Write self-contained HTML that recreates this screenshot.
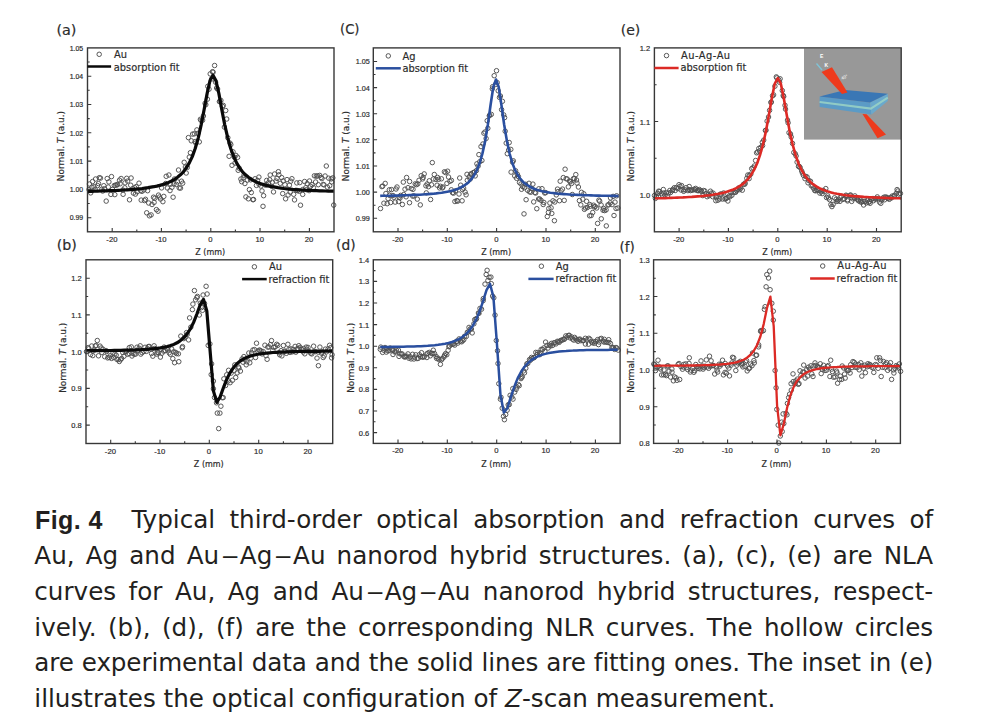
<!DOCTYPE html>
<html lang="en"><head><meta charset="utf-8"><title>Fig. 4</title>
<style>
html,body{margin:0;padding:0;background:#fff;}
body{width:982px;height:720px;position:relative;overflow:hidden;font-family:"Liberation Sans",Arial,sans-serif;}
svg{position:absolute;left:0;top:0;font-family:"Liberation Sans",Arial,sans-serif;}
svg .dj{font-family:"DejaVu Sans","Liberation Sans",sans-serif;}
svg text{stroke:#2b2b2b;stroke-width:0.18px;}
svg .ins text{stroke:none;}
.ln{position:absolute;height:36px;line-height:36px;font-size:24.64px;color:#231f20;white-space:nowrap;font-family:"DejaVu Sans","Liberation Sans",sans-serif;}
.ln .d{display:inline-block;transform:scaleX(1.45);margin:0 3.6px 0 4.8px;}
.ln.fig{font-family:"Liberation Sans",sans-serif;font-weight:bold;font-size:25px;letter-spacing:0.4px;}
.ln.j{text-align:justify;text-align-last:justify;white-space:normal;}
</style></head><body>
<svg width="982" height="490" viewBox="0 0 982 490">
<g fill="none" stroke="#505050" stroke-width="0.95">
<circle cx="89.0" cy="189.5" r="2.25"/>
<circle cx="89.4" cy="184.0" r="2.25"/>
<circle cx="90.7" cy="192.9" r="2.25"/>
<circle cx="91.9" cy="187.2" r="2.25"/>
<circle cx="92.6" cy="181.5" r="2.25"/>
<circle cx="94.0" cy="186.8" r="2.25"/>
<circle cx="95.1" cy="189.4" r="2.25"/>
<circle cx="95.6" cy="179.0" r="2.25"/>
<circle cx="97.6" cy="185.6" r="2.25"/>
<circle cx="98.5" cy="183.6" r="2.25"/>
<circle cx="99.3" cy="177.7" r="2.25"/>
<circle cx="100.5" cy="178.1" r="2.25"/>
<circle cx="101.8" cy="189.3" r="2.25"/>
<circle cx="102.7" cy="191.0" r="2.25"/>
<circle cx="103.8" cy="185.7" r="2.25"/>
<circle cx="104.5" cy="188.7" r="2.25"/>
<circle cx="106.2" cy="201.1" r="2.25"/>
<circle cx="107.2" cy="178.5" r="2.25"/>
<circle cx="108.3" cy="187.0" r="2.25"/>
<circle cx="108.9" cy="181.9" r="2.25"/>
<circle cx="110.9" cy="194.4" r="2.25"/>
<circle cx="111.5" cy="176.6" r="2.25"/>
<circle cx="112.5" cy="189.4" r="2.25"/>
<circle cx="114.3" cy="185.5" r="2.25"/>
<circle cx="114.8" cy="194.6" r="2.25"/>
<circle cx="115.5" cy="185.2" r="2.25"/>
<circle cx="116.9" cy="185.0" r="2.25"/>
<circle cx="117.4" cy="184.4" r="2.25"/>
<circle cx="119.5" cy="180.2" r="2.25"/>
<circle cx="120.1" cy="183.8" r="2.25"/>
<circle cx="121.1" cy="178.5" r="2.25"/>
<circle cx="122.8" cy="190.0" r="2.25"/>
<circle cx="123.1" cy="194.3" r="2.25"/>
<circle cx="124.8" cy="187.8" r="2.25"/>
<circle cx="125.1" cy="182.8" r="2.25"/>
<circle cx="126.7" cy="178.3" r="2.25"/>
<circle cx="127.6" cy="181.1" r="2.25"/>
<circle cx="129.5" cy="199.8" r="2.25"/>
<circle cx="130.7" cy="185.2" r="2.25"/>
<circle cx="131.1" cy="178.0" r="2.25"/>
<circle cx="132.6" cy="188.8" r="2.25"/>
<circle cx="133.4" cy="193.1" r="2.25"/>
<circle cx="134.7" cy="187.7" r="2.25"/>
<circle cx="135.4" cy="194.1" r="2.25"/>
<circle cx="136.2" cy="186.6" r="2.25"/>
<circle cx="137.3" cy="191.8" r="2.25"/>
<circle cx="139.0" cy="183.2" r="2.25"/>
<circle cx="140.7" cy="190.7" r="2.25"/>
<circle cx="141.2" cy="200.1" r="2.25"/>
<circle cx="142.0" cy="191.3" r="2.25"/>
<circle cx="143.9" cy="189.9" r="2.25"/>
<circle cx="144.5" cy="200.6" r="2.25"/>
<circle cx="145.5" cy="199.3" r="2.25"/>
<circle cx="146.7" cy="212.8" r="2.25"/>
<circle cx="147.6" cy="190.7" r="2.25"/>
<circle cx="148.7" cy="203.0" r="2.25"/>
<circle cx="149.4" cy="215.8" r="2.25"/>
<circle cx="151.1" cy="214.9" r="2.25"/>
<circle cx="152.0" cy="204.5" r="2.25"/>
<circle cx="153.5" cy="197.2" r="2.25"/>
<circle cx="154.1" cy="202.4" r="2.25"/>
<circle cx="154.8" cy="198.2" r="2.25"/>
<circle cx="156.4" cy="209.6" r="2.25"/>
<circle cx="158.0" cy="211.2" r="2.25"/>
<circle cx="158.5" cy="195.1" r="2.25"/>
<circle cx="159.5" cy="197.0" r="2.25"/>
<circle cx="160.5" cy="199.0" r="2.25"/>
<circle cx="161.6" cy="187.9" r="2.25"/>
<circle cx="162.9" cy="201.7" r="2.25"/>
<circle cx="163.8" cy="196.4" r="2.25"/>
<circle cx="165.7" cy="183.5" r="2.25"/>
<circle cx="166.2" cy="176.3" r="2.25"/>
<circle cx="167.4" cy="188.0" r="2.25"/>
<circle cx="168.9" cy="175.0" r="2.25"/>
<circle cx="170.0" cy="190.6" r="2.25"/>
<circle cx="170.6" cy="184.2" r="2.25"/>
<circle cx="171.9" cy="187.3" r="2.25"/>
<circle cx="173.1" cy="197.2" r="2.25"/>
<circle cx="173.9" cy="184.0" r="2.25"/>
<circle cx="174.5" cy="179.0" r="2.25"/>
<circle cx="176.4" cy="184.4" r="2.25"/>
<circle cx="177.5" cy="181.9" r="2.25"/>
<circle cx="178.5" cy="170.0" r="2.25"/>
<circle cx="179.2" cy="187.9" r="2.25"/>
<circle cx="180.5" cy="188.1" r="2.25"/>
<circle cx="181.5" cy="181.2" r="2.25"/>
<circle cx="182.7" cy="183.2" r="2.25"/>
<circle cx="184.2" cy="162.3" r="2.25"/>
<circle cx="185.4" cy="167.0" r="2.25"/>
<circle cx="186.2" cy="173.0" r="2.25"/>
<circle cx="187.3" cy="167.4" r="2.25"/>
<circle cx="188.4" cy="137.6" r="2.25"/>
<circle cx="189.3" cy="157.1" r="2.25"/>
<circle cx="190.4" cy="152.7" r="2.25"/>
<circle cx="191.3" cy="140.8" r="2.25"/>
<circle cx="192.6" cy="134.1" r="2.25"/>
<circle cx="194.4" cy="133.8" r="2.25"/>
<circle cx="195.1" cy="141.5" r="2.25"/>
<circle cx="195.8" cy="143.0" r="2.25"/>
<circle cx="196.9" cy="129.9" r="2.25"/>
<circle cx="197.8" cy="133.4" r="2.25"/>
<circle cx="199.3" cy="141.9" r="2.25"/>
<circle cx="200.4" cy="119.3" r="2.25"/>
<circle cx="201.0" cy="120.4" r="2.25"/>
<circle cx="202.6" cy="120.2" r="2.25"/>
<circle cx="203.4" cy="116.0" r="2.25"/>
<circle cx="205.1" cy="103.3" r="2.25"/>
<circle cx="205.8" cy="104.7" r="2.25"/>
<circle cx="207.4" cy="99.2" r="2.25"/>
<circle cx="207.8" cy="86.3" r="2.25"/>
<circle cx="209.0" cy="89.2" r="2.25"/>
<circle cx="210.2" cy="73.9" r="2.25"/>
<circle cx="211.6" cy="79.0" r="2.25"/>
<circle cx="212.5" cy="71.7" r="2.25"/>
<circle cx="213.1" cy="72.2" r="2.25"/>
<circle cx="214.6" cy="65.5" r="2.25"/>
<circle cx="215.6" cy="82.2" r="2.25"/>
<circle cx="216.6" cy="88.0" r="2.25"/>
<circle cx="217.6" cy="89.0" r="2.25"/>
<circle cx="219.4" cy="101.6" r="2.25"/>
<circle cx="219.9" cy="101.3" r="2.25"/>
<circle cx="220.9" cy="100.4" r="2.25"/>
<circle cx="222.4" cy="106.3" r="2.25"/>
<circle cx="223.3" cy="105.4" r="2.25"/>
<circle cx="224.4" cy="127.1" r="2.25"/>
<circle cx="225.7" cy="110.5" r="2.25"/>
<circle cx="226.7" cy="119.0" r="2.25"/>
<circle cx="227.8" cy="137.7" r="2.25"/>
<circle cx="229.1" cy="156.3" r="2.25"/>
<circle cx="230.0" cy="143.1" r="2.25"/>
<circle cx="230.8" cy="144.6" r="2.25"/>
<circle cx="232.0" cy="165.3" r="2.25"/>
<circle cx="233.0" cy="151.8" r="2.25"/>
<circle cx="234.3" cy="157.2" r="2.25"/>
<circle cx="235.0" cy="163.1" r="2.25"/>
<circle cx="235.9" cy="155.4" r="2.25"/>
<circle cx="237.6" cy="157.3" r="2.25"/>
<circle cx="238.2" cy="170.3" r="2.25"/>
<circle cx="239.2" cy="168.2" r="2.25"/>
<circle cx="240.9" cy="179.0" r="2.25"/>
<circle cx="241.7" cy="181.7" r="2.25"/>
<circle cx="243.2" cy="177.8" r="2.25"/>
<circle cx="244.0" cy="175.2" r="2.25"/>
<circle cx="244.9" cy="183.5" r="2.25"/>
<circle cx="245.9" cy="196.9" r="2.25"/>
<circle cx="247.3" cy="180.1" r="2.25"/>
<circle cx="248.4" cy="198.8" r="2.25"/>
<circle cx="249.4" cy="189.6" r="2.25"/>
<circle cx="250.6" cy="179.8" r="2.25"/>
<circle cx="251.3" cy="192.5" r="2.25"/>
<circle cx="252.9" cy="199.7" r="2.25"/>
<circle cx="253.5" cy="199.5" r="2.25"/>
<circle cx="255.0" cy="178.8" r="2.25"/>
<circle cx="256.4" cy="185.4" r="2.25"/>
<circle cx="257.6" cy="180.4" r="2.25"/>
<circle cx="258.9" cy="177.1" r="2.25"/>
<circle cx="259.0" cy="184.2" r="2.25"/>
<circle cx="260.8" cy="186.0" r="2.25"/>
<circle cx="262.0" cy="190.9" r="2.25"/>
<circle cx="263.0" cy="206.3" r="2.25"/>
<circle cx="263.6" cy="195.7" r="2.25"/>
<circle cx="265.1" cy="185.0" r="2.25"/>
<circle cx="266.6" cy="184.9" r="2.25"/>
<circle cx="266.7" cy="180.4" r="2.25"/>
<circle cx="268.4" cy="182.8" r="2.25"/>
<circle cx="269.7" cy="179.8" r="2.25"/>
<circle cx="270.2" cy="175.0" r="2.25"/>
<circle cx="271.7" cy="186.3" r="2.25"/>
<circle cx="272.3" cy="182.3" r="2.25"/>
<circle cx="273.5" cy="191.9" r="2.25"/>
<circle cx="274.6" cy="174.0" r="2.25"/>
<circle cx="276.0" cy="181.0" r="2.25"/>
<circle cx="277.0" cy="178.4" r="2.25"/>
<circle cx="278.4" cy="171.7" r="2.25"/>
<circle cx="278.9" cy="174.8" r="2.25"/>
<circle cx="280.3" cy="183.3" r="2.25"/>
<circle cx="281.7" cy="177.6" r="2.25"/>
<circle cx="282.7" cy="193.6" r="2.25"/>
<circle cx="283.2" cy="180.9" r="2.25"/>
<circle cx="284.9" cy="184.7" r="2.25"/>
<circle cx="285.6" cy="198.8" r="2.25"/>
<circle cx="287.0" cy="179.6" r="2.25"/>
<circle cx="288.1" cy="195.0" r="2.25"/>
<circle cx="289.4" cy="185.2" r="2.25"/>
<circle cx="290.2" cy="192.1" r="2.25"/>
<circle cx="290.7" cy="181.2" r="2.25"/>
<circle cx="291.9" cy="178.7" r="2.25"/>
<circle cx="293.7" cy="194.3" r="2.25"/>
<circle cx="294.5" cy="199.9" r="2.25"/>
<circle cx="296.0" cy="190.3" r="2.25"/>
<circle cx="296.8" cy="182.9" r="2.25"/>
<circle cx="297.6" cy="190.6" r="2.25"/>
<circle cx="299.2" cy="191.2" r="2.25"/>
<circle cx="299.8" cy="182.6" r="2.25"/>
<circle cx="300.5" cy="205.2" r="2.25"/>
<circle cx="302.8" cy="189.5" r="2.25"/>
<circle cx="302.7" cy="194.4" r="2.25"/>
<circle cx="304.6" cy="181.5" r="2.25"/>
<circle cx="305.8" cy="187.7" r="2.25"/>
<circle cx="306.6" cy="189.7" r="2.25"/>
<circle cx="307.2" cy="183.6" r="2.25"/>
<circle cx="309.1" cy="190.6" r="2.25"/>
<circle cx="309.5" cy="181.0" r="2.25"/>
<circle cx="310.6" cy="186.3" r="2.25"/>
<circle cx="312.0" cy="184.7" r="2.25"/>
<circle cx="313.4" cy="187.6" r="2.25"/>
<circle cx="314.4" cy="175.8" r="2.25"/>
<circle cx="315.6" cy="182.0" r="2.25"/>
<circle cx="316.3" cy="176.2" r="2.25"/>
<circle cx="317.5" cy="175.8" r="2.25"/>
<circle cx="318.3" cy="184.7" r="2.25"/>
<circle cx="319.7" cy="175.4" r="2.25"/>
<circle cx="321.0" cy="177.5" r="2.25"/>
<circle cx="321.9" cy="178.6" r="2.25"/>
<circle cx="323.2" cy="184.4" r="2.25"/>
<circle cx="324.0" cy="184.9" r="2.25"/>
<circle cx="325.1" cy="176.0" r="2.25"/>
<circle cx="326.3" cy="166.0" r="2.25"/>
<circle cx="327.4" cy="187.1" r="2.25"/>
<circle cx="328.7" cy="178.2" r="2.25"/>
<circle cx="329.7" cy="185.7" r="2.25"/>
<circle cx="331.2" cy="178.9" r="2.25"/>
<circle cx="331.7" cy="181.9" r="2.25"/>
<circle cx="332.8" cy="177.9" r="2.25"/>
<circle cx="333.7" cy="205.1" r="2.25"/>
</g>
<path d="M87.6 191.3 L88.7 191.3 L91.7 191.3 L94.6 191.2 L97.6 191.1 L100.6 191.0 L103.5 190.9 L106.5 190.8 L109.4 190.7 L112.4 190.6 L115.4 190.5 L118.3 190.3 L121.3 190.2 L124.2 190.0 L127.2 189.8 L130.1 189.6 L133.1 189.4 L136.1 189.1 L139.0 188.8 L142.0 188.5 L144.9 188.1 L147.9 187.7 L150.9 187.2 L153.8 186.7 L156.8 186.1 L159.7 185.4 L162.7 184.5 L165.6 183.6 L168.6 182.4 L171.6 181.0 L174.5 179.4 L177.5 177.3 L180.4 174.8 L183.4 171.8 L186.3 167.9 L189.3 162.9 L192.3 156.6 L195.2 148.5 L198.2 138.1 L201.1 125.1 L204.1 109.7 L207.1 93.6 L210.0 80.5 L213.0 75.3 L215.9 80.5 L218.9 93.6 L221.8 109.7 L224.8 125.1 L227.8 138.1 L230.7 148.5 L233.7 156.6 L236.6 162.9 L239.6 167.9 L242.5 171.8 L245.5 174.8 L248.5 177.3 L251.4 179.4 L254.4 181.0 L257.3 182.4 L260.3 183.6 L263.3 184.5 L266.2 185.4 L269.2 186.1 L272.1 186.7 L275.1 187.2 L278.0 187.7 L281.0 188.1 L284.0 188.5 L286.9 188.8 L289.9 189.1 L292.8 189.4 L295.8 189.6 L298.8 189.8 L301.7 190.0 L304.7 190.2 L307.6 190.3 L310.6 190.5 L313.5 190.6 L316.5 190.7 L319.5 190.8 L322.4 190.9 L325.4 191.0 L328.3 191.1 L331.3 191.2 L333.9 191.2" fill="none" stroke="#0a0a0a" stroke-width="3.2" stroke-linejoin="round"/>

<rect x="87.5" y="47.9" width="246.5" height="183.9" fill="none" stroke="#383838" stroke-width="1.4"/>
<path d="M112.2 231.8 v-3.8 M161.4 231.8 v-3.8 M210.8 231.8 v-3.8 M260.0 231.8 v-3.8 M309.4 231.8 v-3.8 M136.8 231.8 v-2.2 M186.1 231.8 v-2.2 M235.4 231.8 v-2.2 M284.7 231.8 v-2.2 M87.5 217.7 h3.8 M87.5 189.4 h3.8 M87.5 161.1 h3.8 M87.5 132.8 h3.8 M87.5 104.5 h3.8 M87.5 76.2 h3.8 M87.5 203.5 h2.2 M87.5 175.2 h2.2 M87.5 146.9 h2.2 M87.5 118.6 h2.2 M87.5 90.3 h2.2 M87.5 62.0 h2.2" stroke="#383838" stroke-width="1.1" fill="none"/>
<g font-size="7.7" fill="#2b2b2b" text-anchor="middle">
<text x="111.9" y="241.8">-20</text>
<text x="161.1" y="241.8">-10</text>
<text x="210.4" y="241.8">0</text>
<text x="259.7" y="241.8">10</text>
<text x="309.1" y="241.8">20</text>
</g>
<g font-size="6.9" fill="#2b2b2b" text-anchor="end">
<text x="83.1" y="220.4">0.99</text>
<text x="83.1" y="192.1">1.00</text>
<text x="83.1" y="163.9">1.01</text>
<text x="83.1" y="135.6">1.02</text>
<text x="83.1" y="107.3">1.03</text>
<text x="83.1" y="79.0">1.04</text>
<text x="83.1" y="50.7">1.05</text>
</g>
<text x="210.2" y="254.6" text-anchor="middle" font-size="8.0" class="dj" fill="#2b2b2b">Z (mm)</text>
<text transform="translate(63.5 146.1) rotate(-90)" text-anchor="middle" font-size="8.95" class="dj" fill="#2b2b2b">Normal. <tspan font-style="italic">T</tspan> (a.u.)</text>
<text x="56.4" y="34.5" font-size="14.4" class="dj" fill="#2b2b2b">(a)</text>
<circle cx="99.2" cy="54.3" r="2.25" fill="none" stroke="#505050" stroke-width="0.95"/>
<path d="M87.5 66.5 H111.1" stroke="#0a0a0a" stroke-width="2.5"/>
<text x="114.0" y="58.1" font-size="9.85" class="dj" fill="#2b2b2b">Au</text>
<text x="113.8" y="70.8" font-size="9.85" class="dj" fill="#2b2b2b">absorption fit</text>
<g fill="none" stroke="#505050" stroke-width="0.95">
<circle cx="86.5" cy="351.6" r="2.25"/>
<circle cx="87.1" cy="351.5" r="2.25"/>
<circle cx="88.2" cy="347.6" r="2.25"/>
<circle cx="88.7" cy="348.8" r="2.25"/>
<circle cx="90.6" cy="354.5" r="2.25"/>
<circle cx="91.7" cy="346.0" r="2.25"/>
<circle cx="92.8" cy="355.6" r="2.25"/>
<circle cx="94.2" cy="350.2" r="2.25"/>
<circle cx="95.3" cy="346.0" r="2.25"/>
<circle cx="96.1" cy="345.4" r="2.25"/>
<circle cx="97.3" cy="340.5" r="2.25"/>
<circle cx="98.5" cy="355.8" r="2.25"/>
<circle cx="100.0" cy="346.1" r="2.25"/>
<circle cx="101.2" cy="348.0" r="2.25"/>
<circle cx="101.8" cy="352.4" r="2.25"/>
<circle cx="103.0" cy="349.2" r="2.25"/>
<circle cx="104.7" cy="356.7" r="2.25"/>
<circle cx="106.1" cy="350.6" r="2.25"/>
<circle cx="106.7" cy="351.5" r="2.25"/>
<circle cx="107.7" cy="357.9" r="2.25"/>
<circle cx="109.4" cy="357.5" r="2.25"/>
<circle cx="110.1" cy="355.8" r="2.25"/>
<circle cx="111.6" cy="358.4" r="2.25"/>
<circle cx="113.0" cy="353.0" r="2.25"/>
<circle cx="113.9" cy="357.5" r="2.25"/>
<circle cx="114.8" cy="354.0" r="2.25"/>
<circle cx="116.2" cy="355.1" r="2.25"/>
<circle cx="116.9" cy="359.4" r="2.25"/>
<circle cx="118.2" cy="359.6" r="2.25"/>
<circle cx="119.3" cy="361.5" r="2.25"/>
<circle cx="120.5" cy="359.7" r="2.25"/>
<circle cx="121.6" cy="358.5" r="2.25"/>
<circle cx="122.8" cy="352.6" r="2.25"/>
<circle cx="123.9" cy="356.3" r="2.25"/>
<circle cx="125.2" cy="351.9" r="2.25"/>
<circle cx="126.4" cy="351.4" r="2.25"/>
<circle cx="127.6" cy="354.3" r="2.25"/>
<circle cx="129.1" cy="353.5" r="2.25"/>
<circle cx="129.3" cy="347.6" r="2.25"/>
<circle cx="131.3" cy="346.9" r="2.25"/>
<circle cx="132.0" cy="356.0" r="2.25"/>
<circle cx="132.9" cy="353.5" r="2.25"/>
<circle cx="134.4" cy="354.2" r="2.25"/>
<circle cx="135.6" cy="354.1" r="2.25"/>
<circle cx="137.0" cy="347.2" r="2.25"/>
<circle cx="137.6" cy="350.5" r="2.25"/>
<circle cx="139.1" cy="348.2" r="2.25"/>
<circle cx="140.2" cy="345.8" r="2.25"/>
<circle cx="140.8" cy="354.1" r="2.25"/>
<circle cx="142.1" cy="352.7" r="2.25"/>
<circle cx="143.8" cy="351.4" r="2.25"/>
<circle cx="145.0" cy="347.3" r="2.25"/>
<circle cx="146.3" cy="351.4" r="2.25"/>
<circle cx="147.3" cy="348.6" r="2.25"/>
<circle cx="148.4" cy="346.5" r="2.25"/>
<circle cx="149.4" cy="346.5" r="2.25"/>
<circle cx="150.9" cy="349.1" r="2.25"/>
<circle cx="151.5" cy="353.5" r="2.25"/>
<circle cx="152.8" cy="356.2" r="2.25"/>
<circle cx="154.1" cy="345.8" r="2.25"/>
<circle cx="154.7" cy="348.5" r="2.25"/>
<circle cx="156.7" cy="354.1" r="2.25"/>
<circle cx="157.2" cy="352.7" r="2.25"/>
<circle cx="158.6" cy="352.6" r="2.25"/>
<circle cx="160.4" cy="357.1" r="2.25"/>
<circle cx="160.7" cy="349.4" r="2.25"/>
<circle cx="161.9" cy="353.2" r="2.25"/>
<circle cx="163.7" cy="351.1" r="2.25"/>
<circle cx="164.1" cy="347.1" r="2.25"/>
<circle cx="165.4" cy="350.6" r="2.25"/>
<circle cx="166.8" cy="348.6" r="2.25"/>
<circle cx="168.0" cy="349.9" r="2.25"/>
<circle cx="169.2" cy="352.8" r="2.25"/>
<circle cx="170.3" cy="354.3" r="2.25"/>
<circle cx="171.7" cy="349.0" r="2.25"/>
<circle cx="172.8" cy="358.6" r="2.25"/>
<circle cx="173.8" cy="351.8" r="2.25"/>
<circle cx="174.6" cy="362.7" r="2.25"/>
<circle cx="175.7" cy="352.4" r="2.25"/>
<circle cx="176.5" cy="353.6" r="2.25"/>
<circle cx="178.4" cy="353.8" r="2.25"/>
<circle cx="178.8" cy="361.7" r="2.25"/>
<circle cx="180.8" cy="336.1" r="2.25"/>
<circle cx="182.2" cy="347.8" r="2.25"/>
<circle cx="182.5" cy="346.6" r="2.25"/>
<circle cx="183.8" cy="338.6" r="2.25"/>
<circle cx="185.0" cy="337.2" r="2.25"/>
<circle cx="186.5" cy="332.6" r="2.25"/>
<circle cx="187.2" cy="334.4" r="2.25"/>
<circle cx="188.6" cy="339.9" r="2.25"/>
<circle cx="189.6" cy="317.9" r="2.25"/>
<circle cx="190.8" cy="327.2" r="2.25"/>
<circle cx="192.4" cy="309.6" r="2.25"/>
<circle cx="192.9" cy="304.1" r="2.25"/>
<circle cx="194.4" cy="290.6" r="2.25"/>
<circle cx="195.6" cy="299.8" r="2.25"/>
<circle cx="196.9" cy="297.7" r="2.25"/>
<circle cx="197.4" cy="296.4" r="2.25"/>
<circle cx="199.3" cy="315.0" r="2.25"/>
<circle cx="200.3" cy="303.2" r="2.25"/>
<circle cx="201.5" cy="307.6" r="2.25"/>
<circle cx="202.5" cy="310.3" r="2.25"/>
<circle cx="203.1" cy="295.0" r="2.25"/>
<circle cx="204.5" cy="303.4" r="2.25"/>
<circle cx="206.1" cy="286.3" r="2.25"/>
<circle cx="207.1" cy="294.0" r="2.25"/>
<circle cx="208.2" cy="345.4" r="2.25"/>
<circle cx="209.9" cy="343.9" r="2.25"/>
<circle cx="211.2" cy="374.6" r="2.25"/>
<circle cx="211.6" cy="363.9" r="2.25"/>
<circle cx="213.4" cy="388.8" r="2.25"/>
<circle cx="213.4" cy="381.1" r="2.25"/>
<circle cx="214.5" cy="397.5" r="2.25"/>
<circle cx="216.5" cy="402.8" r="2.25"/>
<circle cx="217.3" cy="413.1" r="2.25"/>
<circle cx="218.7" cy="428.6" r="2.25"/>
<circle cx="219.9" cy="413.1" r="2.25"/>
<circle cx="220.9" cy="406.2" r="2.25"/>
<circle cx="222.2" cy="397.7" r="2.25"/>
<circle cx="223.2" cy="397.6" r="2.25"/>
<circle cx="223.9" cy="378.8" r="2.25"/>
<circle cx="225.6" cy="385.5" r="2.25"/>
<circle cx="226.7" cy="374.8" r="2.25"/>
<circle cx="228.3" cy="380.9" r="2.25"/>
<circle cx="228.6" cy="370.3" r="2.25"/>
<circle cx="230.1" cy="382.7" r="2.25"/>
<circle cx="231.1" cy="373.1" r="2.25"/>
<circle cx="232.4" cy="380.3" r="2.25"/>
<circle cx="234.1" cy="370.6" r="2.25"/>
<circle cx="234.8" cy="364.9" r="2.25"/>
<circle cx="235.7" cy="377.5" r="2.25"/>
<circle cx="237.1" cy="372.9" r="2.25"/>
<circle cx="238.4" cy="366.9" r="2.25"/>
<circle cx="239.0" cy="368.0" r="2.25"/>
<circle cx="240.4" cy="371.1" r="2.25"/>
<circle cx="242.1" cy="358.9" r="2.25"/>
<circle cx="243.0" cy="362.2" r="2.25"/>
<circle cx="243.9" cy="356.6" r="2.25"/>
<circle cx="244.9" cy="359.8" r="2.25"/>
<circle cx="246.2" cy="364.8" r="2.25"/>
<circle cx="246.9" cy="361.8" r="2.25"/>
<circle cx="248.8" cy="353.0" r="2.25"/>
<circle cx="249.8" cy="362.8" r="2.25"/>
<circle cx="250.9" cy="358.1" r="2.25"/>
<circle cx="251.6" cy="352.9" r="2.25"/>
<circle cx="252.9" cy="350.0" r="2.25"/>
<circle cx="254.5" cy="349.6" r="2.25"/>
<circle cx="255.5" cy="357.5" r="2.25"/>
<circle cx="256.5" cy="343.2" r="2.25"/>
<circle cx="257.9" cy="351.3" r="2.25"/>
<circle cx="259.2" cy="350.2" r="2.25"/>
<circle cx="259.9" cy="350.2" r="2.25"/>
<circle cx="261.1" cy="351.0" r="2.25"/>
<circle cx="262.1" cy="353.9" r="2.25"/>
<circle cx="263.2" cy="351.6" r="2.25"/>
<circle cx="264.9" cy="345.2" r="2.25"/>
<circle cx="266.0" cy="355.7" r="2.25"/>
<circle cx="267.1" cy="359.3" r="2.25"/>
<circle cx="267.8" cy="347.1" r="2.25"/>
<circle cx="269.0" cy="346.9" r="2.25"/>
<circle cx="270.4" cy="344.7" r="2.25"/>
<circle cx="271.5" cy="340.6" r="2.25"/>
<circle cx="272.8" cy="350.4" r="2.25"/>
<circle cx="273.7" cy="347.4" r="2.25"/>
<circle cx="275.3" cy="346.8" r="2.25"/>
<circle cx="276.7" cy="344.3" r="2.25"/>
<circle cx="277.8" cy="345.3" r="2.25"/>
<circle cx="279.0" cy="352.7" r="2.25"/>
<circle cx="279.7" cy="354.8" r="2.25"/>
<circle cx="281.1" cy="350.7" r="2.25"/>
<circle cx="281.9" cy="355.9" r="2.25"/>
<circle cx="283.4" cy="345.5" r="2.25"/>
<circle cx="284.2" cy="351.3" r="2.25"/>
<circle cx="285.3" cy="351.1" r="2.25"/>
<circle cx="286.4" cy="353.3" r="2.25"/>
<circle cx="287.9" cy="344.3" r="2.25"/>
<circle cx="289.0" cy="349.4" r="2.25"/>
<circle cx="290.1" cy="352.4" r="2.25"/>
<circle cx="290.9" cy="348.8" r="2.25"/>
<circle cx="292.4" cy="351.8" r="2.25"/>
<circle cx="293.1" cy="349.3" r="2.25"/>
<circle cx="295.1" cy="346.4" r="2.25"/>
<circle cx="295.8" cy="352.2" r="2.25"/>
<circle cx="297.0" cy="348.9" r="2.25"/>
<circle cx="298.1" cy="348.6" r="2.25"/>
<circle cx="298.8" cy="345.7" r="2.25"/>
<circle cx="300.0" cy="347.4" r="2.25"/>
<circle cx="301.6" cy="349.4" r="2.25"/>
<circle cx="303.2" cy="352.0" r="2.25"/>
<circle cx="303.5" cy="348.5" r="2.25"/>
<circle cx="304.8" cy="353.8" r="2.25"/>
<circle cx="306.2" cy="347.1" r="2.25"/>
<circle cx="306.8" cy="349.3" r="2.25"/>
<circle cx="308.0" cy="347.4" r="2.25"/>
<circle cx="309.5" cy="351.8" r="2.25"/>
<circle cx="310.8" cy="353.2" r="2.25"/>
<circle cx="311.8" cy="353.9" r="2.25"/>
<circle cx="313.6" cy="346.2" r="2.25"/>
<circle cx="314.2" cy="351.4" r="2.25"/>
<circle cx="315.5" cy="351.6" r="2.25"/>
<circle cx="317.0" cy="358.1" r="2.25"/>
<circle cx="318.2" cy="352.1" r="2.25"/>
<circle cx="318.4" cy="365.7" r="2.25"/>
<circle cx="319.9" cy="347.1" r="2.25"/>
<circle cx="321.5" cy="353.2" r="2.25"/>
<circle cx="321.9" cy="352.0" r="2.25"/>
<circle cx="323.2" cy="357.5" r="2.25"/>
<circle cx="324.2" cy="355.9" r="2.25"/>
<circle cx="325.4" cy="349.1" r="2.25"/>
<circle cx="326.6" cy="351.8" r="2.25"/>
<circle cx="328.1" cy="348.9" r="2.25"/>
<circle cx="329.6" cy="345.3" r="2.25"/>
<circle cx="330.8" cy="347.6" r="2.25"/>
<circle cx="331.6" cy="357.8" r="2.25"/>
<circle cx="332.1" cy="354.8" r="2.25"/>
</g>
<path d="M86.1 350.7 L87.8 350.7 L91.1 350.7 L94.4 350.6 L97.7 350.6 L101.0 350.6 L104.4 350.5 L107.7 350.5 L111.0 350.5 L114.3 350.4 L117.6 350.4 L120.9 350.3 L124.2 350.2 L127.5 350.2 L130.8 350.1 L134.1 350.0 L137.4 349.8 L140.7 349.7 L144.0 349.5 L147.3 349.3 L150.6 349.0 L153.9 348.7 L157.2 348.3 L160.6 347.9 L163.9 347.3 L167.2 346.5 L170.5 345.6 L173.8 344.4 L177.1 342.8 L180.4 340.6 L183.7 337.8 L187.0 334.1 L190.3 329.0 L193.6 322.4 L196.9 314.0 L200.2 304.8 L203.5 299.4 L206.8 310.9 L210.1 350.9 L213.4 390.9 L216.8 402.4 L220.1 397.0 L223.4 387.8 L226.7 379.4 L230.0 372.8 L233.3 367.8 L236.6 364.0 L239.9 361.2 L243.2 359.1 L246.5 357.5 L249.8 356.2 L253.1 355.3 L256.4 354.5 L259.7 354.0 L263.0 353.5 L266.3 353.1 L269.6 352.8 L272.9 352.5 L276.3 352.3 L279.6 352.1 L282.9 352.0 L286.2 351.9 L289.5 351.8 L292.8 351.7 L296.1 351.6 L299.4 351.5 L302.7 351.5 L306.0 351.4 L309.3 351.4 L312.6 351.3 L315.9 351.3 L319.2 351.3 L322.5 351.2 L325.8 351.2 L329.1 351.2 L332.5 351.2 L332.6 351.2" fill="none" stroke="#0a0a0a" stroke-width="3.2" stroke-linejoin="round"/>

<rect x="86.0" y="259.8" width="246.7" height="183.7" fill="none" stroke="#383838" stroke-width="1.4"/>
<path d="M110.7 443.5 v-3.8 M160.0 443.5 v-3.8 M209.3 443.5 v-3.8 M258.7 443.5 v-3.8 M308.0 443.5 v-3.8 M135.3 443.5 v-2.2 M184.7 443.5 v-2.2 M234.0 443.5 v-2.2 M283.4 443.5 v-2.2 M86.0 425.1 h3.8 M86.0 388.4 h3.8 M86.0 351.6 h3.8 M86.0 314.9 h3.8 M86.0 278.2 h3.8 M86.0 406.8 h2.2 M86.0 370.0 h2.2 M86.0 333.3 h2.2 M86.0 296.5 h2.2" stroke="#383838" stroke-width="1.1" fill="none"/>
<g font-size="7.7" fill="#2b2b2b" text-anchor="middle">
<text x="110.4" y="453.5">-20</text>
<text x="159.7" y="453.5">-10</text>
<text x="209.0" y="453.5">0</text>
<text x="258.4" y="453.5">10</text>
<text x="307.7" y="453.5">20</text>
</g>
<g font-size="7.5" fill="#2b2b2b" text-anchor="end">
<text x="81.7" y="428.1">0.8</text>
<text x="81.7" y="391.4">0.9</text>
<text x="81.7" y="354.6">1.0</text>
<text x="81.7" y="317.9">1.1</text>
<text x="81.7" y="281.2">1.2</text>
</g>
<text x="208.8" y="466.6" text-anchor="middle" font-size="8.0" class="dj" fill="#2b2b2b">Z (mm)</text>
<text transform="translate(66.4 357.8) rotate(-90)" text-anchor="middle" font-size="8.95" class="dj" fill="#2b2b2b">Normal. <tspan font-style="italic">T</tspan> (a.u.)</text>
<text x="56.7" y="250.4" font-size="14.2" class="dj" fill="#2b2b2b">(b)</text>
<circle cx="254.4" cy="266.8" r="2.25" fill="none" stroke="#505050" stroke-width="0.95"/>
<path d="M242.1 279.1 H266.7" stroke="#0a0a0a" stroke-width="2.5"/>
<text x="269.0" y="270.1" font-size="9.85" class="dj" fill="#2b2b2b">Au</text>
<text x="268.4" y="282.8" font-size="9.85" class="dj" fill="#2b2b2b">refraction fit</text>
<g fill="none" stroke="#505050" stroke-width="0.95">
<circle cx="380.5" cy="208.5" r="2.25"/>
<circle cx="381.9" cy="186.6" r="2.25"/>
<circle cx="382.7" cy="186.1" r="2.25"/>
<circle cx="383.9" cy="203.2" r="2.25"/>
<circle cx="385.2" cy="183.4" r="2.25"/>
<circle cx="385.9" cy="193.5" r="2.25"/>
<circle cx="387.2" cy="203.7" r="2.25"/>
<circle cx="388.1" cy="198.6" r="2.25"/>
<circle cx="389.3" cy="189.8" r="2.25"/>
<circle cx="389.5" cy="195.3" r="2.25"/>
<circle cx="390.6" cy="202.5" r="2.25"/>
<circle cx="391.5" cy="189.6" r="2.25"/>
<circle cx="393.0" cy="195.5" r="2.25"/>
<circle cx="393.8" cy="197.3" r="2.25"/>
<circle cx="395.2" cy="202.1" r="2.25"/>
<circle cx="396.0" cy="189.0" r="2.25"/>
<circle cx="397.0" cy="187.0" r="2.25"/>
<circle cx="398.6" cy="201.5" r="2.25"/>
<circle cx="399.1" cy="197.2" r="2.25"/>
<circle cx="400.0" cy="198.0" r="2.25"/>
<circle cx="400.7" cy="195.4" r="2.25"/>
<circle cx="402.4" cy="204.5" r="2.25"/>
<circle cx="403.3" cy="182.1" r="2.25"/>
<circle cx="403.7" cy="194.6" r="2.25"/>
<circle cx="405.0" cy="189.2" r="2.25"/>
<circle cx="406.1" cy="196.8" r="2.25"/>
<circle cx="406.6" cy="177.5" r="2.25"/>
<circle cx="408.0" cy="187.7" r="2.25"/>
<circle cx="409.5" cy="202.7" r="2.25"/>
<circle cx="409.6" cy="181.5" r="2.25"/>
<circle cx="411.3" cy="188.6" r="2.25"/>
<circle cx="412.7" cy="196.1" r="2.25"/>
<circle cx="413.0" cy="189.3" r="2.25"/>
<circle cx="414.0" cy="195.9" r="2.25"/>
<circle cx="415.2" cy="183.9" r="2.25"/>
<circle cx="416.4" cy="184.7" r="2.25"/>
<circle cx="417.3" cy="199.1" r="2.25"/>
<circle cx="417.8" cy="183.9" r="2.25"/>
<circle cx="419.0" cy="180.3" r="2.25"/>
<circle cx="420.3" cy="204.9" r="2.25"/>
<circle cx="421.2" cy="175.7" r="2.25"/>
<circle cx="422.6" cy="178.9" r="2.25"/>
<circle cx="423.2" cy="177.3" r="2.25"/>
<circle cx="424.2" cy="173.9" r="2.25"/>
<circle cx="425.9" cy="185.8" r="2.25"/>
<circle cx="426.3" cy="192.9" r="2.25"/>
<circle cx="427.1" cy="184.0" r="2.25"/>
<circle cx="428.4" cy="186.7" r="2.25"/>
<circle cx="429.3" cy="180.8" r="2.25"/>
<circle cx="430.6" cy="199.5" r="2.25"/>
<circle cx="431.5" cy="184.8" r="2.25"/>
<circle cx="432.3" cy="162.6" r="2.25"/>
<circle cx="433.3" cy="179.0" r="2.25"/>
<circle cx="434.3" cy="174.5" r="2.25"/>
<circle cx="435.9" cy="179.4" r="2.25"/>
<circle cx="437.1" cy="185.2" r="2.25"/>
<circle cx="437.5" cy="177.4" r="2.25"/>
<circle cx="438.7" cy="179.3" r="2.25"/>
<circle cx="439.6" cy="187.9" r="2.25"/>
<circle cx="440.4" cy="186.3" r="2.25"/>
<circle cx="441.4" cy="178.8" r="2.25"/>
<circle cx="442.4" cy="187.9" r="2.25"/>
<circle cx="443.0" cy="187.0" r="2.25"/>
<circle cx="444.4" cy="171.8" r="2.25"/>
<circle cx="445.7" cy="172.6" r="2.25"/>
<circle cx="446.9" cy="183.4" r="2.25"/>
<circle cx="447.6" cy="171.2" r="2.25"/>
<circle cx="448.5" cy="177.0" r="2.25"/>
<circle cx="449.9" cy="181.3" r="2.25"/>
<circle cx="451.3" cy="189.8" r="2.25"/>
<circle cx="451.4" cy="180.4" r="2.25"/>
<circle cx="452.5" cy="192.7" r="2.25"/>
<circle cx="453.6" cy="193.1" r="2.25"/>
<circle cx="454.9" cy="201.5" r="2.25"/>
<circle cx="455.5" cy="190.9" r="2.25"/>
<circle cx="456.9" cy="200.6" r="2.25"/>
<circle cx="457.6" cy="201.2" r="2.25"/>
<circle cx="459.0" cy="194.0" r="2.25"/>
<circle cx="459.7" cy="178.0" r="2.25"/>
<circle cx="460.7" cy="185.2" r="2.25"/>
<circle cx="462.1" cy="200.8" r="2.25"/>
<circle cx="462.5" cy="189.5" r="2.25"/>
<circle cx="463.6" cy="188.1" r="2.25"/>
<circle cx="465.1" cy="192.1" r="2.25"/>
<circle cx="466.1" cy="194.8" r="2.25"/>
<circle cx="467.0" cy="174.3" r="2.25"/>
<circle cx="467.3" cy="180.3" r="2.25"/>
<circle cx="469.2" cy="176.7" r="2.25"/>
<circle cx="470.1" cy="179.1" r="2.25"/>
<circle cx="470.9" cy="173.8" r="2.25"/>
<circle cx="471.4" cy="174.3" r="2.25"/>
<circle cx="473.2" cy="172.6" r="2.25"/>
<circle cx="474.5" cy="172.1" r="2.25"/>
<circle cx="475.2" cy="175.9" r="2.25"/>
<circle cx="476.4" cy="170.6" r="2.25"/>
<circle cx="476.9" cy="163.8" r="2.25"/>
<circle cx="478.1" cy="166.1" r="2.25"/>
<circle cx="478.9" cy="154.6" r="2.25"/>
<circle cx="479.8" cy="161.7" r="2.25"/>
<circle cx="481.0" cy="146.6" r="2.25"/>
<circle cx="481.9" cy="160.5" r="2.25"/>
<circle cx="482.9" cy="144.0" r="2.25"/>
<circle cx="483.9" cy="133.2" r="2.25"/>
<circle cx="485.0" cy="132.0" r="2.25"/>
<circle cx="486.1" cy="138.5" r="2.25"/>
<circle cx="487.2" cy="120.7" r="2.25"/>
<circle cx="487.8" cy="128.3" r="2.25"/>
<circle cx="489.3" cy="115.8" r="2.25"/>
<circle cx="489.7" cy="115.1" r="2.25"/>
<circle cx="491.3" cy="114.4" r="2.25"/>
<circle cx="492.3" cy="88.9" r="2.25"/>
<circle cx="492.6" cy="86.7" r="2.25"/>
<circle cx="494.2" cy="75.7" r="2.25"/>
<circle cx="495.6" cy="84.4" r="2.25"/>
<circle cx="496.5" cy="70.7" r="2.25"/>
<circle cx="497.2" cy="82.6" r="2.25"/>
<circle cx="498.2" cy="90.8" r="2.25"/>
<circle cx="499.5" cy="97.4" r="2.25"/>
<circle cx="500.4" cy="96.0" r="2.25"/>
<circle cx="501.6" cy="109.7" r="2.25"/>
<circle cx="502.4" cy="101.3" r="2.25"/>
<circle cx="503.7" cy="114.9" r="2.25"/>
<circle cx="504.6" cy="117.6" r="2.25"/>
<circle cx="505.2" cy="131.2" r="2.25"/>
<circle cx="506.2" cy="143.1" r="2.25"/>
<circle cx="507.3" cy="153.7" r="2.25"/>
<circle cx="508.6" cy="150.1" r="2.25"/>
<circle cx="509.2" cy="142.5" r="2.25"/>
<circle cx="510.8" cy="149.4" r="2.25"/>
<circle cx="511.1" cy="172.1" r="2.25"/>
<circle cx="512.5" cy="162.1" r="2.25"/>
<circle cx="513.3" cy="160.8" r="2.25"/>
<circle cx="514.7" cy="175.9" r="2.25"/>
<circle cx="515.6" cy="170.8" r="2.25"/>
<circle cx="516.6" cy="178.3" r="2.25"/>
<circle cx="517.3" cy="174.2" r="2.25"/>
<circle cx="518.4" cy="176.6" r="2.25"/>
<circle cx="519.5" cy="182.5" r="2.25"/>
<circle cx="521.0" cy="184.0" r="2.25"/>
<circle cx="521.5" cy="189.3" r="2.25"/>
<circle cx="522.8" cy="186.7" r="2.25"/>
<circle cx="524.0" cy="213.9" r="2.25"/>
<circle cx="524.5" cy="187.7" r="2.25"/>
<circle cx="525.6" cy="184.3" r="2.25"/>
<circle cx="526.1" cy="199.7" r="2.25"/>
<circle cx="527.6" cy="190.3" r="2.25"/>
<circle cx="529.0" cy="183.3" r="2.25"/>
<circle cx="529.5" cy="191.8" r="2.25"/>
<circle cx="530.9" cy="192.2" r="2.25"/>
<circle cx="532.1" cy="188.6" r="2.25"/>
<circle cx="532.9" cy="184.1" r="2.25"/>
<circle cx="533.7" cy="201.9" r="2.25"/>
<circle cx="534.9" cy="192.5" r="2.25"/>
<circle cx="535.7" cy="193.0" r="2.25"/>
<circle cx="536.8" cy="208.7" r="2.25"/>
<circle cx="538.6" cy="199.0" r="2.25"/>
<circle cx="538.8" cy="188.8" r="2.25"/>
<circle cx="539.7" cy="199.0" r="2.25"/>
<circle cx="541.0" cy="200.3" r="2.25"/>
<circle cx="542.0" cy="188.7" r="2.25"/>
<circle cx="543.2" cy="204.5" r="2.25"/>
<circle cx="543.8" cy="202.4" r="2.25"/>
<circle cx="544.7" cy="193.0" r="2.25"/>
<circle cx="545.7" cy="192.6" r="2.25"/>
<circle cx="547.3" cy="216.5" r="2.25"/>
<circle cx="548.4" cy="212.4" r="2.25"/>
<circle cx="548.8" cy="208.5" r="2.25"/>
<circle cx="549.9" cy="203.0" r="2.25"/>
<circle cx="551.1" cy="207.8" r="2.25"/>
<circle cx="551.8" cy="213.4" r="2.25"/>
<circle cx="553.0" cy="200.8" r="2.25"/>
<circle cx="554.4" cy="220.7" r="2.25"/>
<circle cx="554.8" cy="202.0" r="2.25"/>
<circle cx="556.3" cy="194.9" r="2.25"/>
<circle cx="557.5" cy="189.1" r="2.25"/>
<circle cx="557.9" cy="191.6" r="2.25"/>
<circle cx="559.5" cy="200.7" r="2.25"/>
<circle cx="560.2" cy="181.2" r="2.25"/>
<circle cx="561.1" cy="190.8" r="2.25"/>
<circle cx="562.5" cy="189.1" r="2.25"/>
<circle cx="563.3" cy="177.6" r="2.25"/>
<circle cx="564.2" cy="200.4" r="2.25"/>
<circle cx="565.1" cy="169.2" r="2.25"/>
<circle cx="566.1" cy="178.7" r="2.25"/>
<circle cx="567.2" cy="179.0" r="2.25"/>
<circle cx="568.3" cy="186.9" r="2.25"/>
<circle cx="569.6" cy="181.1" r="2.25"/>
<circle cx="570.3" cy="181.9" r="2.25"/>
<circle cx="571.5" cy="183.5" r="2.25"/>
<circle cx="572.3" cy="194.5" r="2.25"/>
<circle cx="573.5" cy="178.6" r="2.25"/>
<circle cx="574.4" cy="178.7" r="2.25"/>
<circle cx="575.8" cy="174.6" r="2.25"/>
<circle cx="576.5" cy="180.0" r="2.25"/>
<circle cx="577.0" cy="183.1" r="2.25"/>
<circle cx="578.4" cy="187.0" r="2.25"/>
<circle cx="579.4" cy="200.6" r="2.25"/>
<circle cx="580.8" cy="204.9" r="2.25"/>
<circle cx="581.5" cy="192.3" r="2.25"/>
<circle cx="582.8" cy="199.2" r="2.25"/>
<circle cx="583.8" cy="193.8" r="2.25"/>
<circle cx="584.4" cy="209.3" r="2.25"/>
<circle cx="585.5" cy="208.0" r="2.25"/>
<circle cx="586.6" cy="201.3" r="2.25"/>
<circle cx="587.3" cy="207.5" r="2.25"/>
<circle cx="589.6" cy="215.8" r="2.25"/>
<circle cx="589.8" cy="204.5" r="2.25"/>
<circle cx="590.3" cy="206.2" r="2.25"/>
<circle cx="591.2" cy="215.5" r="2.25"/>
<circle cx="592.7" cy="212.5" r="2.25"/>
<circle cx="593.6" cy="205.2" r="2.25"/>
<circle cx="594.2" cy="207.0" r="2.25"/>
<circle cx="595.2" cy="206.5" r="2.25"/>
<circle cx="596.7" cy="208.0" r="2.25"/>
<circle cx="597.6" cy="223.4" r="2.25"/>
<circle cx="598.9" cy="200.1" r="2.25"/>
<circle cx="599.7" cy="201.2" r="2.25"/>
<circle cx="601.1" cy="205.0" r="2.25"/>
<circle cx="601.3" cy="218.8" r="2.25"/>
<circle cx="603.0" cy="210.2" r="2.25"/>
<circle cx="603.6" cy="208.4" r="2.25"/>
<circle cx="604.6" cy="210.6" r="2.25"/>
<circle cx="606.1" cy="209.9" r="2.25"/>
<circle cx="606.3" cy="225.9" r="2.25"/>
<circle cx="607.9" cy="204.9" r="2.25"/>
<circle cx="608.8" cy="204.8" r="2.25"/>
<circle cx="610.3" cy="202.9" r="2.25"/>
<circle cx="610.5" cy="197.9" r="2.25"/>
<circle cx="612.0" cy="204.6" r="2.25"/>
<circle cx="613.1" cy="196.4" r="2.25"/>
<circle cx="614.0" cy="215.5" r="2.25"/>
<circle cx="615.0" cy="202.1" r="2.25"/>
<circle cx="616.0" cy="208.5" r="2.25"/>
<circle cx="616.6" cy="195.8" r="2.25"/>
<circle cx="617.9" cy="208.0" r="2.25"/>
</g>
<path d="M380.2 195.9 L382.0 195.8 L384.7 195.8 L387.5 195.7 L390.2 195.7 L392.9 195.6 L395.6 195.6 L398.3 195.5 L401.0 195.4 L403.7 195.3 L406.5 195.2 L409.2 195.1 L411.9 195.0 L414.6 194.9 L417.3 194.8 L420.0 194.7 L422.7 194.5 L425.5 194.3 L428.2 194.1 L430.9 193.9 L433.6 193.7 L436.3 193.4 L439.0 193.0 L441.7 192.7 L444.4 192.2 L447.2 191.7 L449.9 191.2 L452.6 190.5 L455.3 189.7 L458.0 188.7 L460.7 187.5 L463.4 186.0 L466.2 184.2 L468.9 181.9 L471.6 178.9 L474.3 175.0 L477.0 169.9 L479.7 163.0 L482.4 153.6 L485.2 140.9 L487.9 124.3 L490.6 104.8 L493.3 87.0 L496.0 79.5 L498.7 87.0 L501.4 104.8 L504.1 124.3 L506.9 140.9 L509.6 153.6 L512.3 163.0 L515.0 169.9 L517.7 175.0 L520.4 178.9 L523.1 181.9 L525.9 184.2 L528.6 186.0 L531.3 187.5 L534.0 188.7 L536.7 189.7 L539.4 190.5 L542.1 191.2 L544.9 191.7 L547.6 192.2 L550.3 192.7 L553.0 193.0 L555.7 193.4 L558.4 193.7 L561.1 193.9 L563.9 194.1 L566.6 194.3 L569.3 194.5 L572.0 194.7 L574.7 194.8 L577.4 194.9 L580.1 195.0 L582.8 195.1 L585.6 195.2 L588.3 195.3 L591.0 195.4 L593.7 195.5 L596.4 195.6 L599.1 195.6 L601.8 195.7 L604.6 195.7 L607.3 195.8 L610.0 195.8 L612.7 195.9 L615.4 195.9 L618.1 196.0 L618.5 196.0" fill="none" stroke="#2a4f9f" stroke-width="2.6" stroke-linejoin="round"/>

<rect x="373.3" y="47.9" width="246.7" height="183.9" fill="none" stroke="#383838" stroke-width="1.4"/>
<path d="M398.0 231.8 v-3.8 M447.3 231.8 v-3.8 M496.6 231.8 v-3.8 M546.0 231.8 v-3.8 M595.3 231.8 v-3.8 M422.6 231.8 v-2.2 M472.0 231.8 v-2.2 M521.3 231.8 v-2.2 M570.7 231.8 v-2.2 M373.3 218.2 h3.8 M373.3 192.1 h3.8 M373.3 166.0 h3.8 M373.3 139.8 h3.8 M373.3 113.7 h3.8 M373.3 87.6 h3.8 M373.3 61.5 h3.8 M373.3 205.2 h2.2 M373.3 179.0 h2.2 M373.3 152.9 h2.2 M373.3 126.8 h2.2 M373.3 100.7 h2.2 M373.3 74.5 h2.2" stroke="#383838" stroke-width="1.1" fill="none"/>
<g font-size="7.7" fill="#2b2b2b" text-anchor="middle">
<text x="397.7" y="241.8">-20</text>
<text x="447.0" y="241.8">-10</text>
<text x="496.3" y="241.8">0</text>
<text x="545.7" y="241.8">10</text>
<text x="595.0" y="241.8">20</text>
</g>
<g font-size="7.2" fill="#2b2b2b" text-anchor="end">
<text x="369.8" y="221.1">0.99</text>
<text x="369.8" y="195.0">1.00</text>
<text x="369.8" y="168.9">1.01</text>
<text x="369.8" y="142.7">1.02</text>
<text x="369.8" y="116.6">1.03</text>
<text x="369.8" y="90.5">1.04</text>
<text x="369.8" y="64.4">1.05</text>
</g>
<text x="496.1" y="254.6" text-anchor="middle" font-size="8.0" class="dj" fill="#2b2b2b">Z (mm)</text>
<text transform="translate(349.0 146.1) rotate(-90)" text-anchor="middle" font-size="8.95" class="dj" fill="#2b2b2b">Normal. <tspan font-style="italic">T</tspan> (a.u.)</text>
<text x="340.0" y="33.6" font-size="13.2" class="dj" fill="#2b2b2b">(C)</text>
<circle cx="388.3" cy="55.9" r="2.25" fill="none" stroke="#505050" stroke-width="0.95"/>
<path d="M375.8 68.3 H400.8" stroke="#2a4f9f" stroke-width="2.5"/>
<text x="402.6" y="59.6" font-size="9.85" class="dj" fill="#2b2b2b">Ag</text>
<text x="402.4" y="71.9" font-size="9.85" class="dj" fill="#2b2b2b">absorption fit</text>
<g fill="none" stroke="#505050" stroke-width="0.95">
<circle cx="380.3" cy="349.3" r="2.25"/>
<circle cx="380.8" cy="347.1" r="2.25"/>
<circle cx="382.6" cy="352.4" r="2.25"/>
<circle cx="383.9" cy="350.3" r="2.25"/>
<circle cx="385.0" cy="347.5" r="2.25"/>
<circle cx="386.3" cy="352.1" r="2.25"/>
<circle cx="386.8" cy="348.6" r="2.25"/>
<circle cx="387.9" cy="350.8" r="2.25"/>
<circle cx="389.1" cy="350.6" r="2.25"/>
<circle cx="390.1" cy="348.0" r="2.25"/>
<circle cx="392.0" cy="349.6" r="2.25"/>
<circle cx="392.8" cy="350.2" r="2.25"/>
<circle cx="393.0" cy="354.5" r="2.25"/>
<circle cx="394.6" cy="351.9" r="2.25"/>
<circle cx="395.9" cy="351.9" r="2.25"/>
<circle cx="396.4" cy="350.2" r="2.25"/>
<circle cx="398.4" cy="350.1" r="2.25"/>
<circle cx="399.0" cy="356.4" r="2.25"/>
<circle cx="399.9" cy="353.8" r="2.25"/>
<circle cx="401.3" cy="353.9" r="2.25"/>
<circle cx="402.2" cy="354.0" r="2.25"/>
<circle cx="403.9" cy="356.5" r="2.25"/>
<circle cx="404.8" cy="357.1" r="2.25"/>
<circle cx="405.6" cy="356.5" r="2.25"/>
<circle cx="406.7" cy="356.1" r="2.25"/>
<circle cx="408.0" cy="353.9" r="2.25"/>
<circle cx="408.8" cy="358.2" r="2.25"/>
<circle cx="410.3" cy="356.8" r="2.25"/>
<circle cx="411.1" cy="358.9" r="2.25"/>
<circle cx="412.6" cy="354.3" r="2.25"/>
<circle cx="413.9" cy="359.0" r="2.25"/>
<circle cx="414.6" cy="357.1" r="2.25"/>
<circle cx="415.8" cy="354.8" r="2.25"/>
<circle cx="417.0" cy="358.6" r="2.25"/>
<circle cx="418.3" cy="358.3" r="2.25"/>
<circle cx="419.4" cy="354.7" r="2.25"/>
<circle cx="420.4" cy="356.7" r="2.25"/>
<circle cx="421.5" cy="352.7" r="2.25"/>
<circle cx="422.1" cy="356.8" r="2.25"/>
<circle cx="423.0" cy="357.2" r="2.25"/>
<circle cx="424.3" cy="356.7" r="2.25"/>
<circle cx="426.8" cy="353.9" r="2.25"/>
<circle cx="426.9" cy="357.5" r="2.25"/>
<circle cx="427.8" cy="353.2" r="2.25"/>
<circle cx="429.3" cy="352.4" r="2.25"/>
<circle cx="430.3" cy="355.8" r="2.25"/>
<circle cx="431.5" cy="353.4" r="2.25"/>
<circle cx="432.7" cy="353.4" r="2.25"/>
<circle cx="433.3" cy="350.2" r="2.25"/>
<circle cx="434.5" cy="353.6" r="2.25"/>
<circle cx="436.1" cy="356.4" r="2.25"/>
<circle cx="436.6" cy="358.4" r="2.25"/>
<circle cx="438.1" cy="358.2" r="2.25"/>
<circle cx="439.0" cy="359.6" r="2.25"/>
<circle cx="440.4" cy="364.3" r="2.25"/>
<circle cx="441.6" cy="359.7" r="2.25"/>
<circle cx="442.3" cy="358.6" r="2.25"/>
<circle cx="443.9" cy="357.1" r="2.25"/>
<circle cx="444.5" cy="355.3" r="2.25"/>
<circle cx="445.6" cy="353.6" r="2.25"/>
<circle cx="446.8" cy="354.7" r="2.25"/>
<circle cx="448.1" cy="350.3" r="2.25"/>
<circle cx="448.9" cy="346.7" r="2.25"/>
<circle cx="449.4" cy="345.9" r="2.25"/>
<circle cx="451.1" cy="344.7" r="2.25"/>
<circle cx="452.6" cy="344.2" r="2.25"/>
<circle cx="453.7" cy="343.9" r="2.25"/>
<circle cx="454.7" cy="345.1" r="2.25"/>
<circle cx="456.6" cy="341.2" r="2.25"/>
<circle cx="457.1" cy="341.5" r="2.25"/>
<circle cx="457.8" cy="343.1" r="2.25"/>
<circle cx="459.1" cy="338.9" r="2.25"/>
<circle cx="460.4" cy="341.1" r="2.25"/>
<circle cx="461.6" cy="341.8" r="2.25"/>
<circle cx="462.7" cy="340.7" r="2.25"/>
<circle cx="463.8" cy="339.7" r="2.25"/>
<circle cx="464.5" cy="336.3" r="2.25"/>
<circle cx="466.3" cy="336.4" r="2.25"/>
<circle cx="467.3" cy="332.4" r="2.25"/>
<circle cx="468.1" cy="331.9" r="2.25"/>
<circle cx="469.0" cy="327.4" r="2.25"/>
<circle cx="470.5" cy="328.7" r="2.25"/>
<circle cx="471.4" cy="329.0" r="2.25"/>
<circle cx="472.2" cy="332.9" r="2.25"/>
<circle cx="473.9" cy="323.8" r="2.25"/>
<circle cx="474.7" cy="319.6" r="2.25"/>
<circle cx="476.5" cy="318.5" r="2.25"/>
<circle cx="475.9" cy="319.5" r="2.25"/>
<circle cx="478.4" cy="313.0" r="2.25"/>
<circle cx="479.0" cy="313.3" r="2.25"/>
<circle cx="480.0" cy="308.4" r="2.25"/>
<circle cx="481.5" cy="309.2" r="2.25"/>
<circle cx="483.3" cy="298.6" r="2.25"/>
<circle cx="483.2" cy="300.6" r="2.25"/>
<circle cx="485.0" cy="284.1" r="2.25"/>
<circle cx="486.2" cy="274.5" r="2.25"/>
<circle cx="487.1" cy="270.3" r="2.25"/>
<circle cx="487.9" cy="280.5" r="2.25"/>
<circle cx="489.1" cy="277.3" r="2.25"/>
<circle cx="490.9" cy="277.1" r="2.25"/>
<circle cx="491.3" cy="283.7" r="2.25"/>
<circle cx="492.6" cy="296.1" r="2.25"/>
<circle cx="493.8" cy="297.8" r="2.25"/>
<circle cx="495.0" cy="315.1" r="2.25"/>
<circle cx="496.3" cy="340.5" r="2.25"/>
<circle cx="497.5" cy="350.8" r="2.25"/>
<circle cx="498.0" cy="363.5" r="2.25"/>
<circle cx="498.8" cy="383.7" r="2.25"/>
<circle cx="500.4" cy="399.2" r="2.25"/>
<circle cx="501.0" cy="397.3" r="2.25"/>
<circle cx="502.2" cy="408.2" r="2.25"/>
<circle cx="503.5" cy="416.3" r="2.25"/>
<circle cx="504.4" cy="419.7" r="2.25"/>
<circle cx="505.7" cy="414.5" r="2.25"/>
<circle cx="507.1" cy="410.2" r="2.25"/>
<circle cx="508.2" cy="404.8" r="2.25"/>
<circle cx="509.3" cy="404.5" r="2.25"/>
<circle cx="510.1" cy="395.3" r="2.25"/>
<circle cx="511.8" cy="397.0" r="2.25"/>
<circle cx="512.8" cy="388.6" r="2.25"/>
<circle cx="513.0" cy="399.1" r="2.25"/>
<circle cx="514.7" cy="392.1" r="2.25"/>
<circle cx="516.1" cy="389.4" r="2.25"/>
<circle cx="516.9" cy="387.0" r="2.25"/>
<circle cx="518.4" cy="384.6" r="2.25"/>
<circle cx="519.2" cy="385.7" r="2.25"/>
<circle cx="521.0" cy="378.6" r="2.25"/>
<circle cx="521.4" cy="377.4" r="2.25"/>
<circle cx="522.3" cy="376.7" r="2.25"/>
<circle cx="523.6" cy="370.9" r="2.25"/>
<circle cx="524.5" cy="372.8" r="2.25"/>
<circle cx="525.8" cy="368.2" r="2.25"/>
<circle cx="526.8" cy="363.9" r="2.25"/>
<circle cx="527.8" cy="363.4" r="2.25"/>
<circle cx="529.5" cy="359.6" r="2.25"/>
<circle cx="530.3" cy="360.3" r="2.25"/>
<circle cx="531.5" cy="357.4" r="2.25"/>
<circle cx="532.0" cy="358.7" r="2.25"/>
<circle cx="534.0" cy="357.7" r="2.25"/>
<circle cx="534.2" cy="357.4" r="2.25"/>
<circle cx="535.8" cy="352.4" r="2.25"/>
<circle cx="537.0" cy="354.6" r="2.25"/>
<circle cx="537.6" cy="352.6" r="2.25"/>
<circle cx="539.7" cy="354.7" r="2.25"/>
<circle cx="540.1" cy="352.8" r="2.25"/>
<circle cx="541.2" cy="349.4" r="2.25"/>
<circle cx="542.6" cy="349.4" r="2.25"/>
<circle cx="543.9" cy="347.9" r="2.25"/>
<circle cx="544.9" cy="351.4" r="2.25"/>
<circle cx="545.6" cy="342.1" r="2.25"/>
<circle cx="547.0" cy="345.4" r="2.25"/>
<circle cx="548.1" cy="348.0" r="2.25"/>
<circle cx="549.5" cy="345.1" r="2.25"/>
<circle cx="550.7" cy="345.9" r="2.25"/>
<circle cx="551.4" cy="343.4" r="2.25"/>
<circle cx="552.6" cy="345.4" r="2.25"/>
<circle cx="553.9" cy="342.8" r="2.25"/>
<circle cx="554.8" cy="342.8" r="2.25"/>
<circle cx="555.9" cy="343.9" r="2.25"/>
<circle cx="557.3" cy="341.3" r="2.25"/>
<circle cx="558.1" cy="341.9" r="2.25"/>
<circle cx="559.3" cy="342.3" r="2.25"/>
<circle cx="560.1" cy="340.8" r="2.25"/>
<circle cx="561.3" cy="340.2" r="2.25"/>
<circle cx="562.5" cy="340.0" r="2.25"/>
<circle cx="563.9" cy="339.1" r="2.25"/>
<circle cx="564.4" cy="339.2" r="2.25"/>
<circle cx="565.8" cy="335.9" r="2.25"/>
<circle cx="567.1" cy="337.1" r="2.25"/>
<circle cx="568.3" cy="335.5" r="2.25"/>
<circle cx="569.3" cy="335.3" r="2.25"/>
<circle cx="570.1" cy="337.9" r="2.25"/>
<circle cx="571.6" cy="336.9" r="2.25"/>
<circle cx="572.6" cy="339.1" r="2.25"/>
<circle cx="573.8" cy="340.1" r="2.25"/>
<circle cx="574.6" cy="337.4" r="2.25"/>
<circle cx="575.9" cy="338.9" r="2.25"/>
<circle cx="576.9" cy="340.0" r="2.25"/>
<circle cx="578.0" cy="341.3" r="2.25"/>
<circle cx="578.9" cy="339.4" r="2.25"/>
<circle cx="580.0" cy="339.1" r="2.25"/>
<circle cx="580.9" cy="340.7" r="2.25"/>
<circle cx="582.9" cy="340.6" r="2.25"/>
<circle cx="583.5" cy="340.5" r="2.25"/>
<circle cx="585.4" cy="344.0" r="2.25"/>
<circle cx="585.3" cy="338.3" r="2.25"/>
<circle cx="586.9" cy="339.8" r="2.25"/>
<circle cx="588.5" cy="344.2" r="2.25"/>
<circle cx="588.8" cy="338.3" r="2.25"/>
<circle cx="590.0" cy="339.2" r="2.25"/>
<circle cx="591.5" cy="341.9" r="2.25"/>
<circle cx="592.7" cy="342.9" r="2.25"/>
<circle cx="593.7" cy="341.6" r="2.25"/>
<circle cx="594.5" cy="343.3" r="2.25"/>
<circle cx="595.8" cy="341.6" r="2.25"/>
<circle cx="597.6" cy="339.6" r="2.25"/>
<circle cx="598.5" cy="344.6" r="2.25"/>
<circle cx="599.2" cy="342.0" r="2.25"/>
<circle cx="600.1" cy="339.0" r="2.25"/>
<circle cx="601.3" cy="338.4" r="2.25"/>
<circle cx="603.0" cy="341.0" r="2.25"/>
<circle cx="604.0" cy="342.1" r="2.25"/>
<circle cx="604.3" cy="339.3" r="2.25"/>
<circle cx="605.7" cy="341.9" r="2.25"/>
<circle cx="607.2" cy="342.4" r="2.25"/>
<circle cx="608.7" cy="339.7" r="2.25"/>
<circle cx="608.8" cy="342.4" r="2.25"/>
<circle cx="610.4" cy="343.4" r="2.25"/>
<circle cx="611.9" cy="347.6" r="2.25"/>
<circle cx="612.9" cy="347.4" r="2.25"/>
<circle cx="613.3" cy="348.1" r="2.25"/>
<circle cx="614.6" cy="349.4" r="2.25"/>
<circle cx="616.0" cy="347.5" r="2.25"/>
<circle cx="616.9" cy="348.1" r="2.25"/>
<circle cx="618.3" cy="350.1" r="2.25"/>
</g>
<path d="M380.2 346.9 L382.9 346.9 L386.3 346.9 L389.8 346.9 L393.2 346.8 L396.7 346.8 L400.2 346.8 L403.6 346.7 L407.1 346.6 L410.5 346.6 L414.0 346.5 L417.4 346.3 L420.9 346.2 L424.3 346.0 L427.8 345.8 L431.2 345.5 L434.7 345.2 L438.2 344.8 L441.6 344.3 L445.1 343.7 L448.5 343.0 L452.0 342.0 L455.4 340.7 L458.9 339.1 L462.3 337.0 L465.8 334.3 L469.3 330.7 L472.7 325.9 L476.2 319.6 L479.6 311.3 L483.1 301.1 L486.5 290.1 L490.0 283.8 L493.4 296.9 L496.9 343.4 L500.4 394.2 L503.8 412.6 L507.3 408.3 L510.7 397.5 L514.2 387.0 L517.6 378.4 L521.1 371.8 L524.5 366.8 L528.0 363.0 L531.4 360.1 L534.9 357.9 L538.4 356.2 L541.8 354.9 L545.3 353.9 L548.7 353.1 L552.2 352.5 L555.6 352.0 L559.1 351.6 L562.5 351.2 L566.0 351.0 L569.5 350.7 L572.9 350.6 L576.4 350.4 L579.8 350.3 L583.3 350.2 L586.7 350.1 L590.2 350.0 L593.6 350.0 L597.1 349.9 L600.6 349.9 L604.0 349.9 L607.5 349.9 L610.9 349.8 L614.4 349.8 L617.6 349.8" fill="none" stroke="#2a4f9f" stroke-width="2.5" stroke-linejoin="round"/>

<rect x="373.3" y="259.8" width="246.8" height="183.6" fill="none" stroke="#383838" stroke-width="1.4"/>
<path d="M398.0 443.4 v-3.8 M447.3 443.4 v-3.8 M496.7 443.4 v-3.8 M546.1 443.4 v-3.8 M595.4 443.4 v-3.8 M422.7 443.4 v-2.2 M472.0 443.4 v-2.2 M521.4 443.4 v-2.2 M570.7 443.4 v-2.2 M373.3 432.6 h3.8 M373.3 411.0 h3.8 M373.3 389.4 h3.8 M373.3 367.8 h3.8 M373.3 346.2 h3.8 M373.3 324.6 h3.8 M373.3 303.0 h3.8 M373.3 281.4 h3.8 M373.3 421.8 h2.2 M373.3 400.2 h2.2 M373.3 378.6 h2.2 M373.3 357.0 h2.2 M373.3 335.4 h2.2 M373.3 313.8 h2.2 M373.3 292.2 h2.2 M373.3 270.6 h2.2" stroke="#383838" stroke-width="1.1" fill="none"/>
<g font-size="7.7" fill="#2b2b2b" text-anchor="middle">
<text x="397.7" y="453.4">-20</text>
<text x="447.0" y="453.4">-10</text>
<text x="496.4" y="453.4">0</text>
<text x="545.8" y="453.4">10</text>
<text x="595.1" y="453.4">20</text>
</g>
<g font-size="7.5" fill="#2b2b2b" text-anchor="end">
<text x="369.2" y="435.6">0.6</text>
<text x="369.2" y="414.0">0.7</text>
<text x="369.2" y="392.4">0.8</text>
<text x="369.2" y="370.8">0.9</text>
<text x="369.2" y="349.2">1.0</text>
<text x="369.2" y="327.6">1.1</text>
<text x="369.2" y="306.0">1.2</text>
<text x="369.2" y="284.4">1.3</text>
<text x="369.2" y="262.8">1.4</text>
</g>
<text x="496.2" y="466.6" text-anchor="middle" font-size="8.0" class="dj" fill="#2b2b2b">Z (mm)</text>
<text transform="translate(353.7 357.8) rotate(-90)" text-anchor="middle" font-size="8.95" class="dj" fill="#2b2b2b">Normal. <tspan font-style="italic">T</tspan> (a.u.)</text>
<text x="336.0" y="250.3" font-size="13.8" class="dj" fill="#2b2b2b">(d)</text>
<circle cx="541.4" cy="266.2" r="2.25" fill="none" stroke="#505050" stroke-width="0.95"/>
<path d="M528.4 278.9 H553.6" stroke="#2a4f9f" stroke-width="2.5"/>
<text x="555.7" y="269.6" font-size="9.85" class="dj" fill="#2b2b2b">Ag</text>
<text x="555.4" y="282.2" font-size="9.85" class="dj" fill="#2b2b2b">refraction fit</text>
<g fill="none" stroke="#505050" stroke-width="0.95">
<circle cx="654.5" cy="195.5" r="2.25"/>
<circle cx="655.4" cy="198.4" r="2.25"/>
<circle cx="656.4" cy="196.1" r="2.25"/>
<circle cx="657.6" cy="193.4" r="2.25"/>
<circle cx="658.6" cy="191.2" r="2.25"/>
<circle cx="659.8" cy="191.5" r="2.25"/>
<circle cx="661.3" cy="193.6" r="2.25"/>
<circle cx="662.3" cy="195.2" r="2.25"/>
<circle cx="663.3" cy="189.5" r="2.25"/>
<circle cx="663.8" cy="193.0" r="2.25"/>
<circle cx="664.9" cy="195.2" r="2.25"/>
<circle cx="666.5" cy="192.7" r="2.25"/>
<circle cx="667.6" cy="195.9" r="2.25"/>
<circle cx="668.4" cy="193.1" r="2.25"/>
<circle cx="669.8" cy="190.5" r="2.25"/>
<circle cx="670.5" cy="192.5" r="2.25"/>
<circle cx="672.4" cy="190.6" r="2.25"/>
<circle cx="672.8" cy="189.4" r="2.25"/>
<circle cx="674.3" cy="187.7" r="2.25"/>
<circle cx="675.2" cy="190.5" r="2.25"/>
<circle cx="676.5" cy="187.5" r="2.25"/>
<circle cx="677.8" cy="188.6" r="2.25"/>
<circle cx="679.0" cy="184.7" r="2.25"/>
<circle cx="680.0" cy="186.3" r="2.25"/>
<circle cx="681.0" cy="190.0" r="2.25"/>
<circle cx="681.6" cy="185.6" r="2.25"/>
<circle cx="683.2" cy="189.8" r="2.25"/>
<circle cx="683.7" cy="191.3" r="2.25"/>
<circle cx="685.2" cy="189.8" r="2.25"/>
<circle cx="686.1" cy="187.7" r="2.25"/>
<circle cx="687.9" cy="190.6" r="2.25"/>
<circle cx="689.0" cy="189.6" r="2.25"/>
<circle cx="689.2" cy="186.5" r="2.25"/>
<circle cx="690.5" cy="190.6" r="2.25"/>
<circle cx="691.5" cy="190.0" r="2.25"/>
<circle cx="692.8" cy="190.1" r="2.25"/>
<circle cx="694.1" cy="189.2" r="2.25"/>
<circle cx="695.3" cy="189.8" r="2.25"/>
<circle cx="695.7" cy="188.4" r="2.25"/>
<circle cx="697.3" cy="190.6" r="2.25"/>
<circle cx="698.6" cy="190.7" r="2.25"/>
<circle cx="699.3" cy="189.5" r="2.25"/>
<circle cx="700.6" cy="190.7" r="2.25"/>
<circle cx="701.6" cy="191.4" r="2.25"/>
<circle cx="702.8" cy="195.6" r="2.25"/>
<circle cx="703.6" cy="190.5" r="2.25"/>
<circle cx="704.9" cy="191.0" r="2.25"/>
<circle cx="706.1" cy="193.6" r="2.25"/>
<circle cx="707.1" cy="196.7" r="2.25"/>
<circle cx="708.4" cy="194.4" r="2.25"/>
<circle cx="709.1" cy="195.7" r="2.25"/>
<circle cx="710.4" cy="191.2" r="2.25"/>
<circle cx="711.4" cy="193.1" r="2.25"/>
<circle cx="712.7" cy="196.7" r="2.25"/>
<circle cx="713.1" cy="193.1" r="2.25"/>
<circle cx="715.1" cy="195.7" r="2.25"/>
<circle cx="715.8" cy="200.7" r="2.25"/>
<circle cx="716.6" cy="197.7" r="2.25"/>
<circle cx="717.9" cy="200.2" r="2.25"/>
<circle cx="719.6" cy="199.0" r="2.25"/>
<circle cx="720.2" cy="194.2" r="2.25"/>
<circle cx="721.3" cy="194.0" r="2.25"/>
<circle cx="722.4" cy="199.0" r="2.25"/>
<circle cx="723.7" cy="193.0" r="2.25"/>
<circle cx="725.0" cy="199.0" r="2.25"/>
<circle cx="726.0" cy="198.6" r="2.25"/>
<circle cx="727.1" cy="197.6" r="2.25"/>
<circle cx="727.9" cy="201.0" r="2.25"/>
<circle cx="729.0" cy="196.0" r="2.25"/>
<circle cx="729.9" cy="196.8" r="2.25"/>
<circle cx="731.0" cy="192.6" r="2.25"/>
<circle cx="731.9" cy="195.3" r="2.25"/>
<circle cx="733.2" cy="192.6" r="2.25"/>
<circle cx="734.9" cy="192.2" r="2.25"/>
<circle cx="735.7" cy="192.2" r="2.25"/>
<circle cx="736.7" cy="190.6" r="2.25"/>
<circle cx="737.6" cy="189.3" r="2.25"/>
<circle cx="738.9" cy="187.8" r="2.25"/>
<circle cx="739.8" cy="189.6" r="2.25"/>
<circle cx="740.7" cy="188.0" r="2.25"/>
<circle cx="742.3" cy="190.2" r="2.25"/>
<circle cx="743.4" cy="184.4" r="2.25"/>
<circle cx="744.8" cy="184.2" r="2.25"/>
<circle cx="745.1" cy="183.0" r="2.25"/>
<circle cx="746.8" cy="178.3" r="2.25"/>
<circle cx="747.8" cy="175.0" r="2.25"/>
<circle cx="749.1" cy="178.6" r="2.25"/>
<circle cx="749.4" cy="175.2" r="2.25"/>
<circle cx="750.8" cy="174.1" r="2.25"/>
<circle cx="751.7" cy="168.6" r="2.25"/>
<circle cx="753.1" cy="167.8" r="2.25"/>
<circle cx="754.3" cy="166.0" r="2.25"/>
<circle cx="755.6" cy="160.5" r="2.25"/>
<circle cx="756.6" cy="152.8" r="2.25"/>
<circle cx="757.7" cy="151.9" r="2.25"/>
<circle cx="758.8" cy="148.5" r="2.25"/>
<circle cx="759.5" cy="151.0" r="2.25"/>
<circle cx="760.8" cy="147.3" r="2.25"/>
<circle cx="762.3" cy="142.3" r="2.25"/>
<circle cx="762.6" cy="145.6" r="2.25"/>
<circle cx="763.7" cy="140.1" r="2.25"/>
<circle cx="765.4" cy="130.5" r="2.25"/>
<circle cx="766.0" cy="130.2" r="2.25"/>
<circle cx="767.1" cy="121.1" r="2.25"/>
<circle cx="768.5" cy="117.0" r="2.25"/>
<circle cx="769.6" cy="110.3" r="2.25"/>
<circle cx="770.9" cy="102.5" r="2.25"/>
<circle cx="771.3" cy="102.0" r="2.25"/>
<circle cx="772.5" cy="95.8" r="2.25"/>
<circle cx="773.6" cy="94.9" r="2.25"/>
<circle cx="774.9" cy="86.2" r="2.25"/>
<circle cx="776.3" cy="76.9" r="2.25"/>
<circle cx="776.8" cy="77.9" r="2.25"/>
<circle cx="778.7" cy="79.7" r="2.25"/>
<circle cx="779.6" cy="82.3" r="2.25"/>
<circle cx="780.1" cy="78.8" r="2.25"/>
<circle cx="782.3" cy="90.6" r="2.25"/>
<circle cx="783.2" cy="95.5" r="2.25"/>
<circle cx="783.7" cy="96.5" r="2.25"/>
<circle cx="785.0" cy="105.3" r="2.25"/>
<circle cx="785.5" cy="109.1" r="2.25"/>
<circle cx="787.5" cy="120.1" r="2.25"/>
<circle cx="788.1" cy="122.8" r="2.25"/>
<circle cx="789.0" cy="132.7" r="2.25"/>
<circle cx="790.5" cy="134.0" r="2.25"/>
<circle cx="791.2" cy="137.0" r="2.25"/>
<circle cx="792.5" cy="143.4" r="2.25"/>
<circle cx="793.8" cy="152.5" r="2.25"/>
<circle cx="795.3" cy="153.8" r="2.25"/>
<circle cx="796.1" cy="156.0" r="2.25"/>
<circle cx="797.1" cy="162.1" r="2.25"/>
<circle cx="798.5" cy="166.4" r="2.25"/>
<circle cx="799.2" cy="166.3" r="2.25"/>
<circle cx="800.2" cy="167.6" r="2.25"/>
<circle cx="801.7" cy="171.0" r="2.25"/>
<circle cx="802.4" cy="173.0" r="2.25"/>
<circle cx="803.4" cy="175.3" r="2.25"/>
<circle cx="805.0" cy="178.7" r="2.25"/>
<circle cx="805.7" cy="176.4" r="2.25"/>
<circle cx="807.1" cy="177.0" r="2.25"/>
<circle cx="808.0" cy="182.8" r="2.25"/>
<circle cx="808.9" cy="180.6" r="2.25"/>
<circle cx="810.5" cy="181.3" r="2.25"/>
<circle cx="811.3" cy="185.8" r="2.25"/>
<circle cx="812.7" cy="185.8" r="2.25"/>
<circle cx="813.4" cy="188.1" r="2.25"/>
<circle cx="814.7" cy="190.5" r="2.25"/>
<circle cx="815.8" cy="190.8" r="2.25"/>
<circle cx="816.6" cy="189.5" r="2.25"/>
<circle cx="817.8" cy="190.0" r="2.25"/>
<circle cx="819.0" cy="190.4" r="2.25"/>
<circle cx="819.8" cy="193.1" r="2.25"/>
<circle cx="821.2" cy="191.7" r="2.25"/>
<circle cx="822.2" cy="193.6" r="2.25"/>
<circle cx="823.1" cy="190.4" r="2.25"/>
<circle cx="824.5" cy="191.4" r="2.25"/>
<circle cx="825.8" cy="188.6" r="2.25"/>
<circle cx="826.5" cy="197.5" r="2.25"/>
<circle cx="827.7" cy="195.9" r="2.25"/>
<circle cx="828.5" cy="197.9" r="2.25"/>
<circle cx="829.6" cy="199.7" r="2.25"/>
<circle cx="830.9" cy="204.6" r="2.25"/>
<circle cx="831.9" cy="206.6" r="2.25"/>
<circle cx="833.1" cy="204.4" r="2.25"/>
<circle cx="834.5" cy="197.8" r="2.25"/>
<circle cx="836.1" cy="199.3" r="2.25"/>
<circle cx="836.6" cy="201.4" r="2.25"/>
<circle cx="837.6" cy="201.0" r="2.25"/>
<circle cx="838.4" cy="199.8" r="2.25"/>
<circle cx="840.1" cy="197.5" r="2.25"/>
<circle cx="840.0" cy="201.3" r="2.25"/>
<circle cx="841.5" cy="196.3" r="2.25"/>
<circle cx="842.9" cy="199.4" r="2.25"/>
<circle cx="844.3" cy="198.7" r="2.25"/>
<circle cx="846.0" cy="195.2" r="2.25"/>
<circle cx="846.5" cy="196.0" r="2.25"/>
<circle cx="847.5" cy="199.7" r="2.25"/>
<circle cx="847.6" cy="200.9" r="2.25"/>
<circle cx="850.1" cy="195.4" r="2.25"/>
<circle cx="850.6" cy="195.0" r="2.25"/>
<circle cx="851.7" cy="201.4" r="2.25"/>
<circle cx="853.0" cy="198.9" r="2.25"/>
<circle cx="854.5" cy="197.8" r="2.25"/>
<circle cx="854.9" cy="195.9" r="2.25"/>
<circle cx="856.0" cy="198.2" r="2.25"/>
<circle cx="857.3" cy="199.4" r="2.25"/>
<circle cx="858.4" cy="200.7" r="2.25"/>
<circle cx="860.1" cy="201.7" r="2.25"/>
<circle cx="860.6" cy="200.2" r="2.25"/>
<circle cx="861.5" cy="202.2" r="2.25"/>
<circle cx="863.0" cy="201.4" r="2.25"/>
<circle cx="863.6" cy="205.0" r="2.25"/>
<circle cx="865.1" cy="201.2" r="2.25"/>
<circle cx="866.4" cy="202.9" r="2.25"/>
<circle cx="867.5" cy="200.3" r="2.25"/>
<circle cx="868.6" cy="202.4" r="2.25"/>
<circle cx="869.7" cy="201.5" r="2.25"/>
<circle cx="870.1" cy="203.3" r="2.25"/>
<circle cx="871.1" cy="199.8" r="2.25"/>
<circle cx="873.0" cy="198.5" r="2.25"/>
<circle cx="873.5" cy="200.7" r="2.25"/>
<circle cx="875.4" cy="199.2" r="2.25"/>
<circle cx="876.2" cy="198.6" r="2.25"/>
<circle cx="877.3" cy="196.9" r="2.25"/>
<circle cx="878.6" cy="198.9" r="2.25"/>
<circle cx="879.5" cy="202.1" r="2.25"/>
<circle cx="880.8" cy="203.3" r="2.25"/>
<circle cx="881.8" cy="200.1" r="2.25"/>
<circle cx="882.9" cy="198.1" r="2.25"/>
<circle cx="884.0" cy="197.2" r="2.25"/>
<circle cx="884.5" cy="199.8" r="2.25"/>
<circle cx="885.7" cy="196.9" r="2.25"/>
<circle cx="887.2" cy="197.5" r="2.25"/>
<circle cx="888.0" cy="198.5" r="2.25"/>
<circle cx="889.3" cy="199.3" r="2.25"/>
<circle cx="890.8" cy="197.5" r="2.25"/>
<circle cx="891.5" cy="197.9" r="2.25"/>
<circle cx="892.1" cy="196.1" r="2.25"/>
<circle cx="893.9" cy="195.9" r="2.25"/>
<circle cx="894.6" cy="195.3" r="2.25"/>
<circle cx="896.3" cy="193.3" r="2.25"/>
<circle cx="897.1" cy="189.6" r="2.25"/>
<circle cx="897.8" cy="191.0" r="2.25"/>
<circle cx="899.0" cy="194.1" r="2.25"/>
<circle cx="900.4" cy="193.4" r="2.25"/>
</g>
<path d="M654.5 198.4 L656.4 198.3 L659.3 198.2 L662.3 198.2 L665.3 198.1 L668.2 198.0 L671.2 197.9 L674.1 197.8 L677.1 197.6 L680.1 197.5 L683.0 197.4 L686.0 197.2 L689.0 197.0 L691.9 196.9 L694.9 196.6 L697.8 196.4 L700.8 196.2 L703.8 195.9 L706.7 195.5 L709.7 195.2 L712.6 194.8 L715.6 194.3 L718.6 193.8 L721.5 193.2 L724.5 192.4 L727.5 191.6 L730.4 190.6 L733.4 189.5 L736.3 188.1 L739.3 186.4 L742.3 184.4 L745.2 181.9 L748.2 178.8 L751.1 174.9 L754.1 169.9 L757.1 163.5 L760.0 155.1 L763.0 144.4 L766.0 130.9 L768.9 114.8 L771.9 97.7 L774.8 83.6 L777.8 78.1 L780.8 83.6 L783.7 97.7 L786.7 114.8 L789.6 130.9 L792.6 144.4 L795.6 155.1 L798.5 163.5 L801.5 169.9 L804.5 174.9 L807.4 178.8 L810.4 181.9 L813.3 184.4 L816.3 186.4 L819.3 188.1 L822.2 189.5 L825.2 190.6 L828.1 191.6 L831.1 192.4 L834.1 193.2 L837.0 193.8 L840.0 194.3 L843.0 194.8 L845.9 195.2 L848.9 195.5 L851.8 195.9 L854.8 196.2 L857.8 196.4 L860.7 196.6 L863.7 196.9 L866.6 197.0 L869.6 197.2 L872.6 197.4 L875.5 197.5 L878.5 197.6 L881.5 197.8 L884.4 197.9 L887.4 198.0 L890.3 198.1 L893.3 198.2 L896.3 198.2 L899.2 198.3 L901.1 198.4" fill="none" stroke="#dc2a25" stroke-width="2.6" stroke-linejoin="round"/>
<g class="ins">
<rect x="804" y="48.4" width="97" height="91.2" fill="#989898"/>
<path d="M819.6 96.5 L870 102.5 L871.5 114.4 L819.6 106.9 Z" fill="#5b9bc6"/>
<path d="M870 102.5 L887.8 93.8 L887.8 101 L871.5 114.4 Z" fill="#6aa9cc"/>
<path d="M819.6 102 L870.8 108.6 L887.8 97.6" fill="none" stroke="#9bd3c4" stroke-width="2" opacity="0.85"/>
<path d="M819.6 96.5 L845.1 90.1 L887.8 93.8 L870 102.5 Z" fill="#3a77b5"/>
<path d="M816.5 63.5 L822 70" stroke="#7fc4d8" stroke-width="1.3"/>
<path d="M821.5 72 L832 67.2 L847.5 92.6 L842 94 Z" fill="#ee3a1c"/>
<path d="M862.5 114 L866.5 114.3 L886 134.5 L877.5 138.2 Z" fill="#ee3a1c"/>
<text x="820" y="58" font-size="5" fill="#fff" font-weight="bold">E</text>
<text x="824.5" y="67" font-size="5" fill="#fff" font-weight="bold">K</text>
<text x="842" y="80" font-size="4.5" fill="#fff" transform="rotate(-25 842 80)">40°</text>
</g>
<rect x="654.4" y="47.9" width="246.8" height="183.9" fill="none" stroke="#383838" stroke-width="1.4"/>
<path d="M679.1 231.8 v-3.8 M728.4 231.8 v-3.8 M777.8 231.8 v-3.8 M827.2 231.8 v-3.8 M876.5 231.8 v-3.8 M703.8 231.8 v-2.2 M753.1 231.8 v-2.2 M802.5 231.8 v-2.2 M851.8 231.8 v-2.2 M654.4 195.0 h3.8 M654.4 121.5 h3.8 M654.4 158.2 h2.2 M654.4 84.7 h2.2" stroke="#383838" stroke-width="1.1" fill="none"/>
<g font-size="7.7" fill="#2b2b2b" text-anchor="middle">
<text x="678.8" y="241.8">-20</text>
<text x="728.1" y="241.8">-10</text>
<text x="777.5" y="241.8">0</text>
<text x="826.9" y="241.8">10</text>
<text x="876.2" y="241.8">20</text>
</g>
<g font-size="7.5" fill="#2b2b2b" text-anchor="end">
<text x="650.1" y="198.0">1.0</text>
<text x="650.1" y="124.5">1.1</text>
<text x="650.1" y="50.9">1.2</text>
</g>
<text x="777.3" y="254.6" text-anchor="middle" font-size="8.0" class="dj" fill="#2b2b2b">Z (mm)</text>
<text transform="translate(634.4 146.1) rotate(-90)" text-anchor="middle" font-size="8.95" class="dj" fill="#2b2b2b">Normal. <tspan font-style="italic">T</tspan> (a.u.)</text>
<text x="620.8" y="35.3" font-size="14.0" class="dj" fill="#2b2b2b">(e)</text>
<circle cx="666.5" cy="55.6" r="2.25" fill="none" stroke="#505050" stroke-width="0.95"/>
<path d="M654.4 68.0 H678.6" stroke="#dc2a25" stroke-width="2.5"/>
<text x="681.0" y="59.0" font-size="9.85" class="dj" fill="#2b2b2b" letter-spacing="0.5">Au-Ag-Au</text>
<text x="680.5" y="71.3" font-size="9.85" class="dj" fill="#2b2b2b">absorption fit</text>
<g fill="none" stroke="#505050" stroke-width="0.95">
<circle cx="653.8" cy="364.0" r="2.25"/>
<circle cx="654.7" cy="364.8" r="2.25"/>
<circle cx="655.5" cy="370.6" r="2.25"/>
<circle cx="657.0" cy="366.9" r="2.25"/>
<circle cx="658.0" cy="360.2" r="2.25"/>
<circle cx="658.6" cy="366.3" r="2.25"/>
<circle cx="659.8" cy="367.8" r="2.25"/>
<circle cx="660.6" cy="369.1" r="2.25"/>
<circle cx="661.6" cy="374.9" r="2.25"/>
<circle cx="663.6" cy="374.8" r="2.25"/>
<circle cx="664.0" cy="369.9" r="2.25"/>
<circle cx="665.4" cy="374.5" r="2.25"/>
<circle cx="666.4" cy="375.6" r="2.25"/>
<circle cx="667.3" cy="366.0" r="2.25"/>
<circle cx="668.1" cy="365.9" r="2.25"/>
<circle cx="669.1" cy="371.2" r="2.25"/>
<circle cx="670.6" cy="377.1" r="2.25"/>
<circle cx="671.9" cy="369.0" r="2.25"/>
<circle cx="672.0" cy="372.2" r="2.25"/>
<circle cx="673.4" cy="380.8" r="2.25"/>
<circle cx="674.6" cy="376.9" r="2.25"/>
<circle cx="676.1" cy="377.9" r="2.25"/>
<circle cx="677.0" cy="380.3" r="2.25"/>
<circle cx="678.1" cy="364.5" r="2.25"/>
<circle cx="679.0" cy="363.5" r="2.25"/>
<circle cx="679.7" cy="379.5" r="2.25"/>
<circle cx="681.0" cy="366.7" r="2.25"/>
<circle cx="682.5" cy="369.2" r="2.25"/>
<circle cx="683.2" cy="367.0" r="2.25"/>
<circle cx="683.8" cy="364.4" r="2.25"/>
<circle cx="685.7" cy="363.9" r="2.25"/>
<circle cx="686.4" cy="367.5" r="2.25"/>
<circle cx="687.6" cy="369.5" r="2.25"/>
<circle cx="689.0" cy="363.4" r="2.25"/>
<circle cx="689.3" cy="357.8" r="2.25"/>
<circle cx="690.3" cy="372.0" r="2.25"/>
<circle cx="690.8" cy="370.1" r="2.25"/>
<circle cx="692.7" cy="368.4" r="2.25"/>
<circle cx="693.9" cy="372.3" r="2.25"/>
<circle cx="694.7" cy="370.6" r="2.25"/>
<circle cx="695.8" cy="364.5" r="2.25"/>
<circle cx="697.1" cy="366.6" r="2.25"/>
<circle cx="698.0" cy="368.5" r="2.25"/>
<circle cx="699.1" cy="366.8" r="2.25"/>
<circle cx="700.0" cy="368.9" r="2.25"/>
<circle cx="701.0" cy="360.9" r="2.25"/>
<circle cx="702.4" cy="366.0" r="2.25"/>
<circle cx="703.1" cy="369.1" r="2.25"/>
<circle cx="704.1" cy="367.6" r="2.25"/>
<circle cx="705.1" cy="366.2" r="2.25"/>
<circle cx="706.3" cy="359.9" r="2.25"/>
<circle cx="707.4" cy="366.9" r="2.25"/>
<circle cx="708.6" cy="368.3" r="2.25"/>
<circle cx="709.5" cy="356.2" r="2.25"/>
<circle cx="710.5" cy="366.3" r="2.25"/>
<circle cx="711.1" cy="360.8" r="2.25"/>
<circle cx="712.8" cy="365.6" r="2.25"/>
<circle cx="713.4" cy="365.5" r="2.25"/>
<circle cx="714.7" cy="374.0" r="2.25"/>
<circle cx="716.2" cy="366.9" r="2.25"/>
<circle cx="717.0" cy="370.0" r="2.25"/>
<circle cx="717.7" cy="372.0" r="2.25"/>
<circle cx="719.2" cy="364.2" r="2.25"/>
<circle cx="720.0" cy="366.1" r="2.25"/>
<circle cx="721.0" cy="364.5" r="2.25"/>
<circle cx="722.5" cy="360.2" r="2.25"/>
<circle cx="723.4" cy="374.9" r="2.25"/>
<circle cx="725.2" cy="363.5" r="2.25"/>
<circle cx="725.0" cy="372.4" r="2.25"/>
<circle cx="726.4" cy="373.2" r="2.25"/>
<circle cx="727.6" cy="366.0" r="2.25"/>
<circle cx="728.9" cy="368.1" r="2.25"/>
<circle cx="729.5" cy="375.9" r="2.25"/>
<circle cx="731.1" cy="365.1" r="2.25"/>
<circle cx="731.7" cy="363.0" r="2.25"/>
<circle cx="732.5" cy="357.3" r="2.25"/>
<circle cx="733.7" cy="357.9" r="2.25"/>
<circle cx="734.8" cy="362.9" r="2.25"/>
<circle cx="735.8" cy="370.5" r="2.25"/>
<circle cx="736.8" cy="365.2" r="2.25"/>
<circle cx="737.9" cy="363.0" r="2.25"/>
<circle cx="739.3" cy="362.4" r="2.25"/>
<circle cx="740.4" cy="361.3" r="2.25"/>
<circle cx="741.7" cy="364.8" r="2.25"/>
<circle cx="742.0" cy="363.3" r="2.25"/>
<circle cx="742.9" cy="366.9" r="2.25"/>
<circle cx="744.9" cy="366.3" r="2.25"/>
<circle cx="745.5" cy="361.9" r="2.25"/>
<circle cx="746.5" cy="360.6" r="2.25"/>
<circle cx="747.2" cy="370.9" r="2.25"/>
<circle cx="748.7" cy="368.6" r="2.25"/>
<circle cx="749.6" cy="368.1" r="2.25"/>
<circle cx="750.7" cy="364.0" r="2.25"/>
<circle cx="752.0" cy="365.7" r="2.25"/>
<circle cx="752.5" cy="353.0" r="2.25"/>
<circle cx="753.9" cy="360.6" r="2.25"/>
<circle cx="754.3" cy="362.9" r="2.25"/>
<circle cx="756.0" cy="355.3" r="2.25"/>
<circle cx="756.6" cy="355.1" r="2.25"/>
<circle cx="758.6" cy="346.9" r="2.25"/>
<circle cx="758.7" cy="344.9" r="2.25"/>
<circle cx="760.6" cy="331.3" r="2.25"/>
<circle cx="760.9" cy="330.6" r="2.25"/>
<circle cx="761.8" cy="331.3" r="2.25"/>
<circle cx="763.4" cy="330.6" r="2.25"/>
<circle cx="764.4" cy="309.3" r="2.25"/>
<circle cx="765.1" cy="306.7" r="2.25"/>
<circle cx="766.1" cy="286.8" r="2.25"/>
<circle cx="766.8" cy="274.6" r="2.25"/>
<circle cx="768.5" cy="278.0" r="2.25"/>
<circle cx="769.7" cy="271.1" r="2.25"/>
<circle cx="770.1" cy="289.7" r="2.25"/>
<circle cx="771.8" cy="303.3" r="2.25"/>
<circle cx="773.3" cy="320.1" r="2.25"/>
<circle cx="773.3" cy="311.2" r="2.25"/>
<circle cx="775.1" cy="370.5" r="2.25"/>
<circle cx="776.1" cy="387.8" r="2.25"/>
<circle cx="776.8" cy="409.4" r="2.25"/>
<circle cx="778.2" cy="425.1" r="2.25"/>
<circle cx="778.8" cy="443.0" r="2.25"/>
<circle cx="780.3" cy="436.0" r="2.25"/>
<circle cx="781.7" cy="422.1" r="2.25"/>
<circle cx="782.2" cy="431.5" r="2.25"/>
<circle cx="783.1" cy="413.9" r="2.25"/>
<circle cx="783.8" cy="423.5" r="2.25"/>
<circle cx="786.0" cy="413.3" r="2.25"/>
<circle cx="787.0" cy="414.8" r="2.25"/>
<circle cx="787.4" cy="403.4" r="2.25"/>
<circle cx="788.6" cy="397.6" r="2.25"/>
<circle cx="789.6" cy="394.2" r="2.25"/>
<circle cx="791.1" cy="383.7" r="2.25"/>
<circle cx="791.3" cy="390.1" r="2.25"/>
<circle cx="793.0" cy="373.9" r="2.25"/>
<circle cx="793.2" cy="381.6" r="2.25"/>
<circle cx="795.1" cy="383.8" r="2.25"/>
<circle cx="795.8" cy="380.9" r="2.25"/>
<circle cx="797.4" cy="379.1" r="2.25"/>
<circle cx="798.3" cy="384.3" r="2.25"/>
<circle cx="799.0" cy="383.6" r="2.25"/>
<circle cx="800.0" cy="370.8" r="2.25"/>
<circle cx="800.9" cy="375.5" r="2.25"/>
<circle cx="802.8" cy="372.1" r="2.25"/>
<circle cx="803.7" cy="365.1" r="2.25"/>
<circle cx="804.2" cy="372.1" r="2.25"/>
<circle cx="805.1" cy="378.0" r="2.25"/>
<circle cx="806.7" cy="369.6" r="2.25"/>
<circle cx="807.6" cy="376.1" r="2.25"/>
<circle cx="808.5" cy="367.2" r="2.25"/>
<circle cx="809.7" cy="369.0" r="2.25"/>
<circle cx="810.9" cy="365.8" r="2.25"/>
<circle cx="811.8" cy="373.9" r="2.25"/>
<circle cx="813.0" cy="376.5" r="2.25"/>
<circle cx="813.9" cy="365.9" r="2.25"/>
<circle cx="815.0" cy="362.9" r="2.25"/>
<circle cx="815.9" cy="365.4" r="2.25"/>
<circle cx="817.3" cy="367.0" r="2.25"/>
<circle cx="818.2" cy="366.9" r="2.25"/>
<circle cx="819.1" cy="367.6" r="2.25"/>
<circle cx="820.3" cy="363.8" r="2.25"/>
<circle cx="821.2" cy="373.6" r="2.25"/>
<circle cx="822.3" cy="369.2" r="2.25"/>
<circle cx="823.6" cy="365.3" r="2.25"/>
<circle cx="824.7" cy="368.3" r="2.25"/>
<circle cx="825.0" cy="370.5" r="2.25"/>
<circle cx="826.5" cy="370.2" r="2.25"/>
<circle cx="827.6" cy="366.6" r="2.25"/>
<circle cx="828.3" cy="365.5" r="2.25"/>
<circle cx="829.9" cy="376.5" r="2.25"/>
<circle cx="830.7" cy="360.2" r="2.25"/>
<circle cx="831.7" cy="369.1" r="2.25"/>
<circle cx="832.4" cy="371.5" r="2.25"/>
<circle cx="833.5" cy="377.2" r="2.25"/>
<circle cx="835.0" cy="376.9" r="2.25"/>
<circle cx="836.6" cy="371.2" r="2.25"/>
<circle cx="837.0" cy="372.9" r="2.25"/>
<circle cx="837.6" cy="383.2" r="2.25"/>
<circle cx="839.6" cy="379.6" r="2.25"/>
<circle cx="840.3" cy="376.1" r="2.25"/>
<circle cx="841.7" cy="379.4" r="2.25"/>
<circle cx="842.2" cy="366.0" r="2.25"/>
<circle cx="843.7" cy="368.0" r="2.25"/>
<circle cx="844.6" cy="374.1" r="2.25"/>
<circle cx="845.2" cy="378.1" r="2.25"/>
<circle cx="846.5" cy="369.1" r="2.25"/>
<circle cx="847.7" cy="370.4" r="2.25"/>
<circle cx="848.5" cy="370.4" r="2.25"/>
<circle cx="850.1" cy="373.0" r="2.25"/>
<circle cx="850.7" cy="364.7" r="2.25"/>
<circle cx="852.1" cy="367.5" r="2.25"/>
<circle cx="852.9" cy="361.6" r="2.25"/>
<circle cx="854.2" cy="362.3" r="2.25"/>
<circle cx="855.2" cy="367.2" r="2.25"/>
<circle cx="855.5" cy="364.1" r="2.25"/>
<circle cx="857.1" cy="367.6" r="2.25"/>
<circle cx="858.4" cy="364.4" r="2.25"/>
<circle cx="859.2" cy="369.8" r="2.25"/>
<circle cx="860.8" cy="362.8" r="2.25"/>
<circle cx="861.8" cy="376.1" r="2.25"/>
<circle cx="862.2" cy="365.8" r="2.25"/>
<circle cx="863.5" cy="368.2" r="2.25"/>
<circle cx="864.7" cy="365.2" r="2.25"/>
<circle cx="865.4" cy="372.7" r="2.25"/>
<circle cx="867.2" cy="366.8" r="2.25"/>
<circle cx="867.9" cy="363.7" r="2.25"/>
<circle cx="868.8" cy="366.0" r="2.25"/>
<circle cx="869.6" cy="364.4" r="2.25"/>
<circle cx="870.6" cy="365.2" r="2.25"/>
<circle cx="871.7" cy="367.2" r="2.25"/>
<circle cx="873.2" cy="367.9" r="2.25"/>
<circle cx="873.8" cy="372.4" r="2.25"/>
<circle cx="875.4" cy="364.6" r="2.25"/>
<circle cx="876.8" cy="365.1" r="2.25"/>
<circle cx="876.8" cy="357.8" r="2.25"/>
<circle cx="878.1" cy="368.3" r="2.25"/>
<circle cx="879.6" cy="357.8" r="2.25"/>
<circle cx="880.5" cy="360.5" r="2.25"/>
<circle cx="881.2" cy="376.5" r="2.25"/>
<circle cx="882.5" cy="367.3" r="2.25"/>
<circle cx="883.5" cy="361.5" r="2.25"/>
<circle cx="884.8" cy="367.7" r="2.25"/>
<circle cx="885.4" cy="363.9" r="2.25"/>
<circle cx="886.6" cy="362.6" r="2.25"/>
<circle cx="887.7" cy="370.3" r="2.25"/>
<circle cx="888.9" cy="365.3" r="2.25"/>
<circle cx="889.8" cy="368.4" r="2.25"/>
<circle cx="890.5" cy="362.7" r="2.25"/>
<circle cx="891.6" cy="379.4" r="2.25"/>
<circle cx="893.4" cy="369.9" r="2.25"/>
<circle cx="893.9" cy="373.0" r="2.25"/>
<circle cx="895.2" cy="368.3" r="2.25"/>
<circle cx="896.2" cy="365.6" r="2.25"/>
<circle cx="897.4" cy="366.4" r="2.25"/>
<circle cx="898.7" cy="368.0" r="2.25"/>
<circle cx="899.4" cy="363.9" r="2.25"/>
<circle cx="900.6" cy="371.3" r="2.25"/>
</g>
<path d="M653.7 365.8 L656.8 365.8 L660.1 365.7 L663.5 365.7 L666.8 365.7 L670.1 365.7 L673.5 365.7 L676.8 365.6 L680.2 365.6 L683.5 365.6 L686.8 365.5 L690.2 365.5 L693.5 365.5 L696.9 365.4 L700.2 365.3 L703.6 365.2 L706.9 365.1 L710.2 365.0 L713.6 364.9 L716.9 364.7 L720.3 364.5 L723.6 364.2 L726.9 363.9 L730.3 363.4 L733.6 362.8 L737.0 362.1 L740.3 361.0 L743.7 359.7 L747.0 357.7 L750.3 355.0 L753.7 351.0 L757.0 345.2 L760.4 336.5 L763.7 324.1 L767.0 308.0 L770.4 296.6 L773.7 326.1 L777.1 405.8 L780.4 435.3 L783.8 423.9 L787.1 407.7 L790.4 395.3 L793.8 386.7 L797.1 380.8 L800.5 376.9 L803.8 374.1 L807.1 372.2 L810.5 370.8 L813.8 369.8 L817.2 369.0 L820.5 368.4 L823.9 368.0 L827.2 367.6 L830.5 367.4 L833.9 367.1 L837.2 367.0 L840.6 366.8 L843.9 366.7 L847.2 366.6 L850.6 366.5 L853.9 366.4 L857.3 366.4 L860.6 366.3 L864.0 366.3 L867.3 366.3 L870.6 366.2 L874.0 366.2 L877.3 366.2 L880.7 366.1 L884.0 366.1 L887.3 366.1 L890.7 366.1 L894.0 366.1 L897.4 366.1 L900.3 366.1" fill="none" stroke="#dc2a25" stroke-width="2.3" stroke-linejoin="round"/>

<rect x="653.6" y="259.8" width="246.8" height="183.6" fill="none" stroke="#383838" stroke-width="1.4"/>
<path d="M678.3 443.4 v-3.8 M727.6 443.4 v-3.8 M777.0 443.4 v-3.8 M826.4 443.4 v-3.8 M875.7 443.4 v-3.8 M703.0 443.4 v-2.2 M752.3 443.4 v-2.2 M801.7 443.4 v-2.2 M851.0 443.4 v-2.2 M653.6 406.7 h3.8 M653.6 370.0 h3.8 M653.6 333.2 h3.8 M653.6 296.5 h3.8 M653.6 425.0 h2.2 M653.6 388.3 h2.2 M653.6 351.6 h2.2 M653.6 314.9 h2.2 M653.6 278.2 h2.2" stroke="#383838" stroke-width="1.1" fill="none"/>
<g font-size="7.7" fill="#2b2b2b" text-anchor="middle">
<text x="678.0" y="453.4">-20</text>
<text x="727.3" y="453.4">-10</text>
<text x="776.7" y="453.4">0</text>
<text x="826.1" y="453.4">10</text>
<text x="875.4" y="453.4">20</text>
</g>
<g font-size="7.5" fill="#2b2b2b" text-anchor="end">
<text x="649.8" y="446.4">0.8</text>
<text x="649.8" y="409.7">0.9</text>
<text x="649.8" y="373.0">1.0</text>
<text x="649.8" y="336.2">1.1</text>
<text x="649.8" y="299.5">1.2</text>
<text x="649.8" y="262.8">1.3</text>
</g>
<text x="776.5" y="466.6" text-anchor="middle" font-size="8.0" class="dj" fill="#2b2b2b">Z (mm)</text>
<text transform="translate(633.7 357.8) rotate(-90)" text-anchor="middle" font-size="8.95" class="dj" fill="#2b2b2b">Normal. <tspan font-style="italic">T</tspan> (a.u.)</text>
<text x="619.6" y="252.4" font-size="13.5" class="dj" fill="#2b2b2b">(f)</text>
<circle cx="822.7" cy="266.0" r="2.25" fill="none" stroke="#505050" stroke-width="0.95"/>
<path d="M810.1 278.5 H834.7" stroke="#dc2a25" stroke-width="2.5"/>
<text x="837.3" y="269.3" font-size="9.85" class="dj" fill="#2b2b2b" letter-spacing="0.5">Au-Ag-Au</text>
<text x="836.5" y="281.9" font-size="9.85" class="dj" fill="#2b2b2b">refraction fit</text>
</svg>
<div class="ln fig" style="top:501.8px;left:35px">Fig. 4</div>
<div class="ln j" style="top:501.8px;left:131.4px;width:801.8px;letter-spacing:0.00px">Typical third-order optical absorption and refraction curves of</div>
<div class="ln j" style="top:537.7px;left:34.3px;width:898.9px;letter-spacing:0.00px">Au, Ag and Au<span class="d">–</span>Ag<span class="d">–</span>Au nanorod hybrid structures. (a), (c), (e) are NLA</div>
<div class="ln j" style="top:573.6px;left:34.3px;width:898.9px;letter-spacing:0.00px">curves for Au, Ag and Au<span class="d">–</span>Ag<span class="d">–</span>Au nanorod hybrid structures, respect-</div>
<div class="ln j" style="top:609.5px;left:34.3px;width:898.9px;letter-spacing:0.00px">ively. (b), (d), (f) are the corresponding NLR curves. The hollow circles</div>
<div class="ln j" style="top:645.4px;left:34.3px;width:898.9px;letter-spacing:-0.12px">are experimental data and the solid lines are fitting ones. The inset in (e)</div>
<div class="ln" style="top:681.3px;left:34.3px;width:898.9px;letter-spacing:0.00px">illustrates the optical configuration of <i>Z</i>-scan measurement.</div>
</body></html>
